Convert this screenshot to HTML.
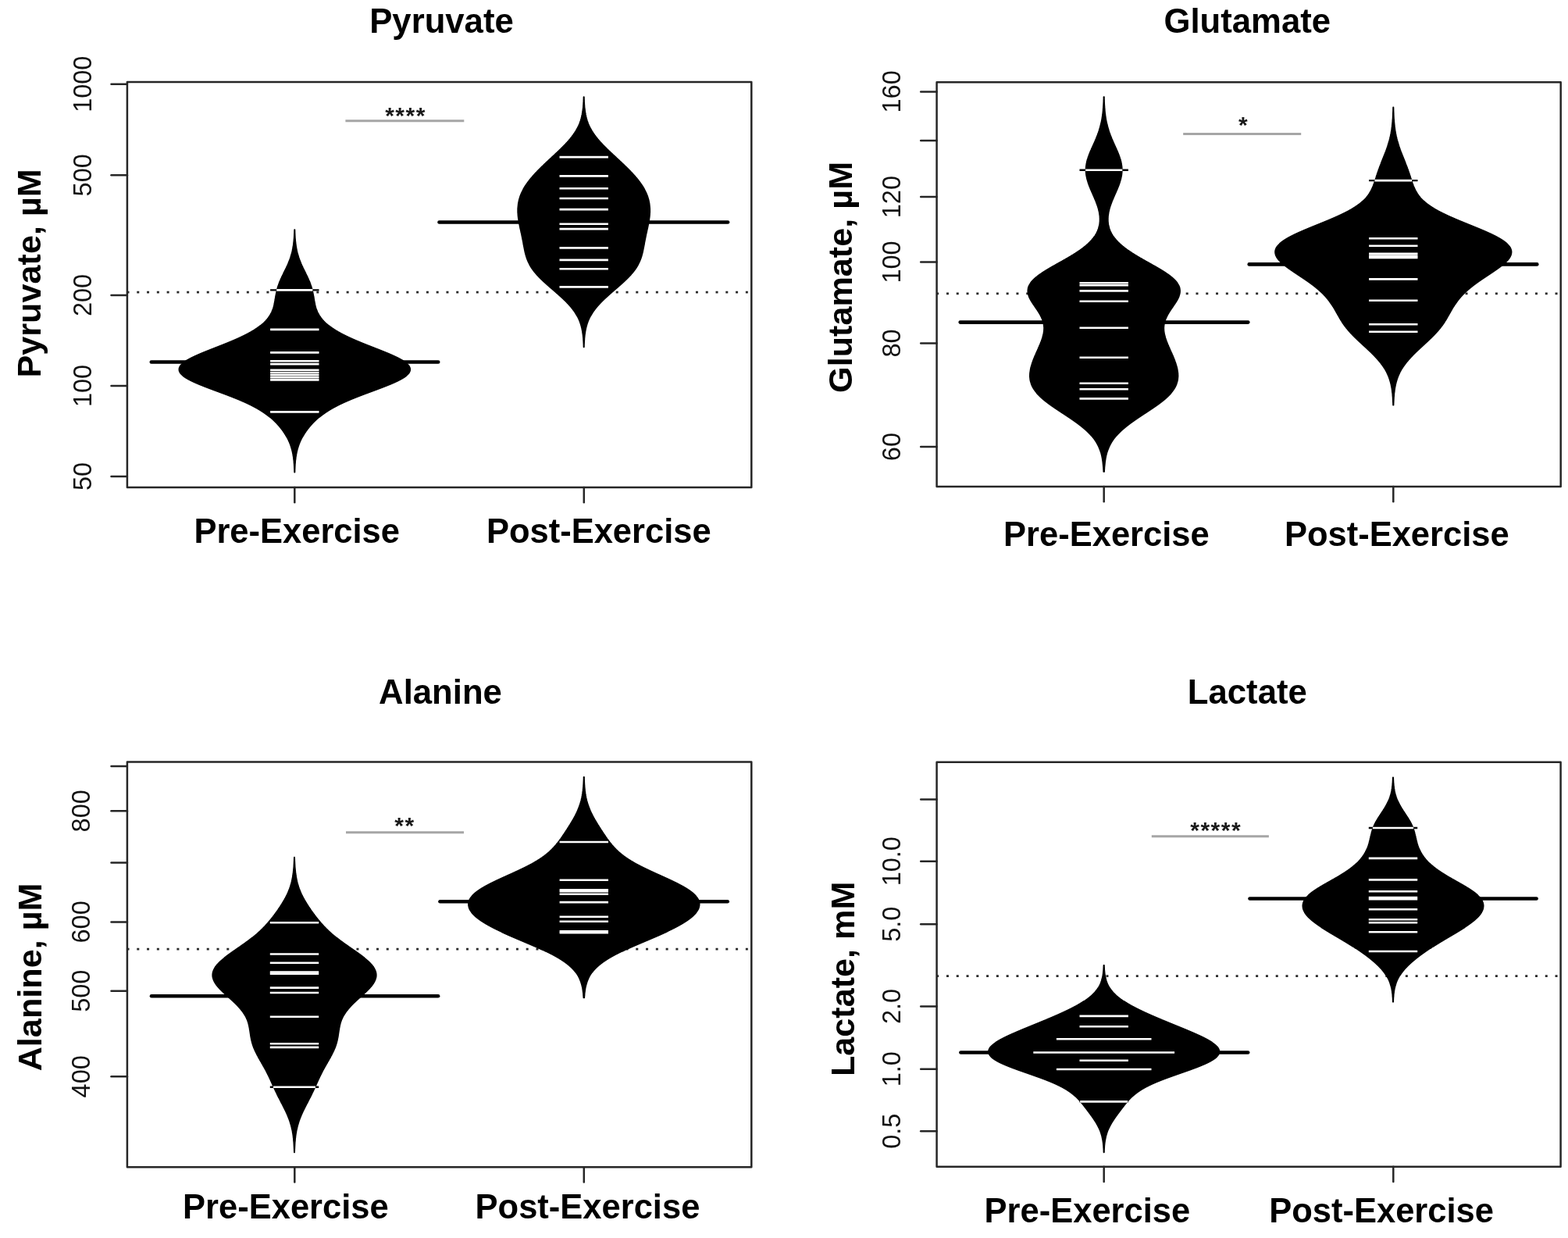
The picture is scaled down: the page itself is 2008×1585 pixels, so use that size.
<!DOCTYPE html>
<html lang="en"><head><meta charset="utf-8"><title>Metabolite bean plots</title>
<style>html,body{margin:0;padding:0;background:#fff}body{width:2008px;height:1585px;overflow:hidden}</style></head>
<body>
<svg width="2008" height="1585" viewBox="0 0 2008 1585" style="display:block" font-family='"Liberation Sans", sans-serif'>
<rect width="2008" height="1585" fill="#fff"/>
<g>
<line x1="162.5" y1="374.2" x2="962.3" y2="374.2" stroke="#2a2a2a" stroke-width="2.7" stroke-dasharray="3 9.78" />
<line x1="193.8" y1="463.5" x2="561.2" y2="463.5" stroke="#000" stroke-width="4.6" stroke-linecap="round"/>
<line x1="346.1" y1="371.4" x2="408.5" y2="371.4" stroke="#000" stroke-width="2.4"/>
<path d="M377.1,294.0 L377.1,295.0 L377.0,296.0 L377.0,297.0 L377.0,298.0 L376.9,299.0 L376.9,300.0 L376.8,301.0 L376.8,302.0 L376.7,303.0 L376.7,304.0 L376.6,305.0 L376.5,306.0 L376.4,307.0 L376.3,308.0 L376.3,309.0 L376.1,310.0 L376.0,311.0 L375.9,312.0 L375.8,313.0 L375.7,314.0 L375.5,315.0 L375.3,316.0 L375.2,317.0 L375.0,318.0 L374.8,319.0 L374.6,320.0 L374.4,321.0 L374.2,322.0 L373.9,323.0 L373.7,324.0 L373.4,325.0 L373.1,326.0 L372.8,327.0 L372.5,328.0 L372.2,329.0 L371.9,330.0 L371.5,331.0 L371.2,332.0 L370.8,333.0 L370.4,334.0 L370.0,335.0 L369.6,336.0 L369.2,337.0 L368.8,338.0 L368.3,339.0 L367.9,340.0 L367.4,341.0 L366.9,342.0 L366.5,343.0 L366.0,344.0 L365.5,345.0 L365.0,346.0 L364.5,347.0 L364.0,348.0 L363.5,349.0 L363.0,350.0 L362.6,351.0 L362.1,352.0 L361.6,353.0 L361.1,354.0 L360.6,355.0 L360.2,356.0 L359.7,357.0 L359.3,358.0 L358.9,359.0 L358.4,360.0 L358.0,361.0 L357.6,362.0 L357.3,363.0 L356.9,364.0 L356.6,365.0 L356.2,366.0 L355.9,367.0 L355.6,368.0 L355.3,369.0 L355.0,370.0 L354.8,371.0 L354.5,372.0 L354.3,373.0 L354.1,374.0 L353.9,375.0 L353.7,376.0 L353.5,377.0 L353.3,378.0 L353.1,379.0 L352.9,380.0 L352.8,381.0 L352.6,382.0 L352.4,383.0 L352.3,384.0 L352.1,385.0 L351.9,386.0 L351.7,387.0 L351.5,388.0 L351.3,389.0 L351.1,390.0 L350.9,391.0 L350.6,392.0 L350.4,393.0 L350.1,394.0 L349.8,395.0 L349.4,396.0 L349.0,397.0 L348.6,398.0 L348.2,399.0 L347.8,400.0 L347.3,401.0 L346.7,402.0 L346.2,403.0 L345.6,404.0 L344.9,405.0 L344.2,406.0 L343.5,407.0 L342.7,408.0 L341.9,409.0 L341.0,410.0 L340.1,411.0 L339.1,412.0 L338.1,413.0 L337.0,414.0 L335.8,415.0 L334.6,416.0 L333.4,417.0 L332.1,418.0 L330.7,419.0 L329.3,420.0 L327.8,421.0 L326.3,422.0 L324.7,423.0 L323.0,424.0 L321.3,425.0 L319.5,426.0 L317.7,427.0 L315.8,428.0 L313.8,429.0 L311.8,430.0 L309.7,431.0 L307.6,432.0 L305.4,433.0 L303.2,434.0 L300.9,435.0 L298.6,436.0 L296.2,437.0 L293.8,438.0 L291.4,439.0 L288.9,440.0 L286.4,441.0 L283.9,442.0 L281.3,443.0 L278.8,444.0 L276.2,445.0 L273.7,446.0 L271.1,447.0 L268.6,448.0 L266.1,449.0 L263.6,450.0 L261.1,451.0 L258.7,452.0 L256.3,453.0 L254.0,454.0 L251.8,455.0 L249.6,456.0 L247.5,457.0 L245.4,458.0 L243.5,459.0 L241.7,460.0 L239.9,461.0 L238.3,462.0 L236.8,463.0 L235.4,464.0 L234.2,465.0 L233.0,466.0 L232.1,467.0 L231.2,468.0 L230.5,469.0 L230.0,470.0 L229.6,471.0 L229.4,472.0 L229.3,473.0 L229.4,474.0 L229.6,475.0 L230.0,476.0 L230.5,477.0 L231.2,478.0 L232.1,479.0 L233.1,480.0 L234.2,481.0 L235.5,482.0 L236.9,483.0 L238.5,484.0 L240.2,485.0 L242.0,486.0 L243.9,487.0 L245.9,488.0 L248.0,489.0 L250.2,490.0 L252.5,491.0 L254.8,492.0 L257.3,493.0 L259.8,494.0 L262.3,495.0 L264.9,496.0 L267.5,497.0 L270.2,498.0 L272.8,499.0 L275.5,500.0 L278.2,501.0 L280.9,502.0 L283.6,503.0 L286.3,504.0 L289.0,505.0 L291.6,506.0 L294.2,507.0 L296.8,508.0 L299.3,509.0 L301.8,510.0 L304.3,511.0 L306.7,512.0 L309.0,513.0 L311.3,514.0 L313.6,515.0 L315.8,516.0 L317.9,517.0 L320.0,518.0 L322.0,519.0 L323.9,520.0 L325.8,521.0 L327.7,522.0 L329.5,523.0 L331.2,524.0 L332.9,525.0 L334.5,526.0 L336.0,527.0 L337.6,528.0 L339.0,529.0 L340.4,530.0 L341.8,531.0 L343.1,532.0 L344.4,533.0 L345.7,534.0 L346.9,535.0 L348.0,536.0 L349.2,537.0 L350.2,538.0 L351.3,539.0 L352.3,540.0 L353.3,541.0 L354.3,542.0 L355.2,543.0 L356.1,544.0 L357.0,545.0 L357.9,546.0 L358.7,547.0 L359.5,548.0 L360.3,549.0 L361.1,550.0 L361.8,551.0 L362.6,552.0 L363.2,553.0 L363.9,554.0 L364.6,555.0 L365.2,556.0 L365.8,557.0 L366.4,558.0 L367.0,559.0 L367.6,560.0 L368.1,561.0 L368.6,562.0 L369.1,563.0 L369.6,564.0 L370.0,565.0 L370.5,566.0 L370.9,567.0 L371.3,568.0 L371.7,569.0 L372.0,570.0 L372.4,571.0 L372.7,572.0 L373.0,573.0 L373.3,574.0 L373.6,575.0 L373.9,576.0 L374.1,577.0 L374.4,578.0 L374.6,579.0 L374.8,580.0 L375.0,581.0 L375.2,582.0 L375.3,583.0 L375.5,584.0 L375.7,585.0 L375.8,586.0 L375.9,587.0 L376.0,588.0 L376.2,589.0 L376.3,590.0 L376.4,591.0 L376.4,592.0 L376.5,593.0 L376.6,594.0 L376.7,595.0 L376.7,596.0 L376.8,597.0 L376.8,598.0 L376.9,599.0 L376.9,600.0 L377.0,601.0 L377.0,602.0 L377.0,603.0 L377.1,604.0 L377.1,604.8 L377.5,604.8 L377.5,604.0 L377.6,603.0 L377.6,602.0 L377.6,601.0 L377.7,600.0 L377.7,599.0 L377.8,598.0 L377.8,597.0 L377.9,596.0 L377.9,595.0 L378.0,594.0 L378.1,593.0 L378.2,592.0 L378.2,591.0 L378.3,590.0 L378.4,589.0 L378.6,588.0 L378.7,587.0 L378.8,586.0 L378.9,585.0 L379.1,584.0 L379.3,583.0 L379.4,582.0 L379.6,581.0 L379.8,580.0 L380.0,579.0 L380.2,578.0 L380.5,577.0 L380.7,576.0 L381.0,575.0 L381.3,574.0 L381.6,573.0 L381.9,572.0 L382.2,571.0 L382.6,570.0 L382.9,569.0 L383.3,568.0 L383.7,567.0 L384.1,566.0 L384.6,565.0 L385.0,564.0 L385.5,563.0 L386.0,562.0 L386.5,561.0 L387.0,560.0 L387.6,559.0 L388.2,558.0 L388.8,557.0 L389.4,556.0 L390.0,555.0 L390.7,554.0 L391.4,553.0 L392.0,552.0 L392.8,551.0 L393.5,550.0 L394.3,549.0 L395.1,548.0 L395.9,547.0 L396.7,546.0 L397.6,545.0 L398.5,544.0 L399.4,543.0 L400.3,542.0 L401.3,541.0 L402.3,540.0 L403.3,539.0 L404.4,538.0 L405.4,537.0 L406.6,536.0 L407.7,535.0 L408.9,534.0 L410.2,533.0 L411.5,532.0 L412.8,531.0 L414.2,530.0 L415.6,529.0 L417.0,528.0 L418.6,527.0 L420.1,526.0 L421.7,525.0 L423.4,524.0 L425.1,523.0 L426.9,522.0 L428.8,521.0 L430.7,520.0 L432.6,519.0 L434.6,518.0 L436.7,517.0 L438.8,516.0 L441.0,515.0 L443.3,514.0 L445.6,513.0 L447.9,512.0 L450.3,511.0 L452.8,510.0 L455.3,509.0 L457.8,508.0 L460.4,507.0 L463.0,506.0 L465.6,505.0 L468.3,504.0 L471.0,503.0 L473.7,502.0 L476.4,501.0 L479.1,500.0 L481.8,499.0 L484.4,498.0 L487.1,497.0 L489.7,496.0 L492.3,495.0 L494.8,494.0 L497.3,493.0 L499.8,492.0 L502.1,491.0 L504.4,490.0 L506.6,489.0 L508.7,488.0 L510.7,487.0 L512.6,486.0 L514.4,485.0 L516.1,484.0 L517.7,483.0 L519.1,482.0 L520.4,481.0 L521.5,480.0 L522.5,479.0 L523.4,478.0 L524.1,477.0 L524.6,476.0 L525.0,475.0 L525.2,474.0 L525.3,473.0 L525.2,472.0 L525.0,471.0 L524.6,470.0 L524.1,469.0 L523.4,468.0 L522.5,467.0 L521.6,466.0 L520.4,465.0 L519.2,464.0 L517.8,463.0 L516.3,462.0 L514.7,461.0 L512.9,460.0 L511.1,459.0 L509.2,458.0 L507.1,457.0 L505.0,456.0 L502.8,455.0 L500.6,454.0 L498.3,453.0 L495.9,452.0 L493.5,451.0 L491.0,450.0 L488.5,449.0 L486.0,448.0 L483.5,447.0 L480.9,446.0 L478.4,445.0 L475.8,444.0 L473.3,443.0 L470.7,442.0 L468.2,441.0 L465.7,440.0 L463.2,439.0 L460.8,438.0 L458.4,437.0 L456.0,436.0 L453.7,435.0 L451.4,434.0 L449.2,433.0 L447.0,432.0 L444.9,431.0 L442.8,430.0 L440.8,429.0 L438.8,428.0 L436.9,427.0 L435.1,426.0 L433.3,425.0 L431.6,424.0 L429.9,423.0 L428.3,422.0 L426.8,421.0 L425.3,420.0 L423.9,419.0 L422.5,418.0 L421.2,417.0 L420.0,416.0 L418.8,415.0 L417.6,414.0 L416.5,413.0 L415.5,412.0 L414.5,411.0 L413.6,410.0 L412.7,409.0 L411.9,408.0 L411.1,407.0 L410.4,406.0 L409.7,405.0 L409.0,404.0 L408.4,403.0 L407.9,402.0 L407.3,401.0 L406.8,400.0 L406.4,399.0 L406.0,398.0 L405.6,397.0 L405.2,396.0 L404.8,395.0 L404.5,394.0 L404.2,393.0 L404.0,392.0 L403.7,391.0 L403.5,390.0 L403.3,389.0 L403.1,388.0 L402.9,387.0 L402.7,386.0 L402.5,385.0 L402.3,384.0 L402.2,383.0 L402.0,382.0 L401.8,381.0 L401.7,380.0 L401.5,379.0 L401.3,378.0 L401.1,377.0 L400.9,376.0 L400.7,375.0 L400.5,374.0 L400.3,373.0 L400.1,372.0 L399.8,371.0 L399.6,370.0 L399.3,369.0 L399.0,368.0 L398.7,367.0 L398.4,366.0 L398.0,365.0 L397.7,364.0 L397.3,363.0 L397.0,362.0 L396.6,361.0 L396.2,360.0 L395.7,359.0 L395.3,358.0 L394.9,357.0 L394.4,356.0 L394.0,355.0 L393.5,354.0 L393.0,353.0 L392.5,352.0 L392.0,351.0 L391.6,350.0 L391.1,349.0 L390.6,348.0 L390.1,347.0 L389.6,346.0 L389.1,345.0 L388.6,344.0 L388.1,343.0 L387.7,342.0 L387.2,341.0 L386.7,340.0 L386.3,339.0 L385.8,338.0 L385.4,337.0 L385.0,336.0 L384.6,335.0 L384.2,334.0 L383.8,333.0 L383.4,332.0 L383.1,331.0 L382.7,330.0 L382.4,329.0 L382.1,328.0 L381.8,327.0 L381.5,326.0 L381.2,325.0 L380.9,324.0 L380.7,323.0 L380.4,322.0 L380.2,321.0 L380.0,320.0 L379.8,319.0 L379.6,318.0 L379.4,317.0 L379.3,316.0 L379.1,315.0 L378.9,314.0 L378.8,313.0 L378.7,312.0 L378.6,311.0 L378.5,310.0 L378.3,309.0 L378.3,308.0 L378.2,307.0 L378.1,306.0 L378.0,305.0 L377.9,304.0 L377.9,303.0 L377.8,302.0 L377.8,301.0 L377.7,300.0 L377.7,299.0 L377.6,298.0 L377.6,297.0 L377.6,296.0 L377.5,295.0 L377.5,294.0Z" fill="#000" stroke="#000" stroke-width="1.6" stroke-linejoin="round"/>
<line x1="354.2" y1="371.4" x2="400.4" y2="371.4" stroke="#fff" stroke-width="2.6"/>
<line x1="346.1" y1="421.9" x2="408.5" y2="421.9" stroke="#fff" stroke-width="2.6"/>
<line x1="346.1" y1="451.4" x2="408.5" y2="451.4" stroke="#fff" stroke-width="2.6"/>
<line x1="346.1" y1="462.2" x2="408.5" y2="462.2" stroke="#fff" stroke-width="2.6"/>
<line x1="346.1" y1="466.1" x2="408.5" y2="466.1" stroke="#fff" stroke-width="2.6"/>
<line x1="346.1" y1="473.9" x2="408.5" y2="473.9" stroke="#fff" stroke-width="2.6"/>
<line x1="346.1" y1="477.2" x2="408.5" y2="477.2" stroke="#fff" stroke-width="2.6"/>
<line x1="346.1" y1="480.2" x2="408.5" y2="480.2" stroke="#fff" stroke-width="2.6"/>
<line x1="346.1" y1="483.2" x2="408.5" y2="483.2" stroke="#fff" stroke-width="2.6"/>
<line x1="346.1" y1="486.4" x2="408.5" y2="486.4" stroke="#fff" stroke-width="2.6"/>
<line x1="346.1" y1="527.4" x2="408.5" y2="527.4" stroke="#fff" stroke-width="2.6"/>
<line x1="562.5" y1="284.5" x2="932.1" y2="284.5" stroke="#000" stroke-width="4.6" stroke-linecap="round"/>
<path d="M747.5,124.0 L747.4,125.0 L747.4,126.0 L747.4,127.0 L747.3,128.0 L747.3,129.0 L747.3,130.0 L747.2,131.0 L747.1,132.0 L747.1,133.0 L747.0,134.0 L746.9,135.0 L746.9,136.0 L746.8,137.0 L746.7,138.0 L746.6,139.0 L746.5,140.0 L746.3,141.0 L746.2,142.0 L746.1,143.0 L745.9,144.0 L745.7,145.0 L745.6,146.0 L745.4,147.0 L745.1,148.0 L744.9,149.0 L744.7,150.0 L744.4,151.0 L744.2,152.0 L743.9,153.0 L743.6,154.0 L743.3,155.0 L742.9,156.0 L742.5,157.0 L742.2,158.0 L741.8,159.0 L741.3,160.0 L740.9,161.0 L740.4,162.0 L739.9,163.0 L739.4,164.0 L738.9,165.0 L738.3,166.0 L737.8,167.0 L737.2,168.0 L736.5,169.0 L735.9,170.0 L735.2,171.0 L734.5,172.0 L733.8,173.0 L733.0,174.0 L732.3,175.0 L731.5,176.0 L730.7,177.0 L729.9,178.0 L729.0,179.0 L728.2,180.0 L727.3,181.0 L726.4,182.0 L725.4,183.0 L724.5,184.0 L723.6,185.0 L722.6,186.0 L721.6,187.0 L720.6,188.0 L719.6,189.0 L718.6,190.0 L717.6,191.0 L716.5,192.0 L715.5,193.0 L714.4,194.0 L713.4,195.0 L712.3,196.0 L711.2,197.0 L710.2,198.0 L709.1,199.0 L708.0,200.0 L706.9,201.0 L705.9,202.0 L704.8,203.0 L703.7,204.0 L702.6,205.0 L701.6,206.0 L700.5,207.0 L699.4,208.0 L698.4,209.0 L697.3,210.0 L696.3,211.0 L695.3,212.0 L694.2,213.0 L693.2,214.0 L692.2,215.0 L691.2,216.0 L690.2,217.0 L689.2,218.0 L688.2,219.0 L687.3,220.0 L686.3,221.0 L685.4,222.0 L684.5,223.0 L683.6,224.0 L682.7,225.0 L681.8,226.0 L681.0,227.0 L680.1,228.0 L679.3,229.0 L678.5,230.0 L677.7,231.0 L677.0,232.0 L676.2,233.0 L675.5,234.0 L674.8,235.0 L674.1,236.0 L673.4,237.0 L672.7,238.0 L672.1,239.0 L671.5,240.0 L670.9,241.0 L670.3,242.0 L669.8,243.0 L669.3,244.0 L668.8,245.0 L668.3,246.0 L667.8,247.0 L667.4,248.0 L667.0,249.0 L666.6,250.0 L666.2,251.0 L665.9,252.0 L665.6,253.0 L665.3,254.0 L665.0,255.0 L664.7,256.0 L664.5,257.0 L664.3,258.0 L664.1,259.0 L663.9,260.0 L663.7,261.0 L663.6,262.0 L663.5,263.0 L663.4,264.0 L663.3,265.0 L663.2,266.0 L663.1,267.0 L663.1,268.0 L663.1,269.0 L663.1,270.0 L663.1,271.0 L663.1,272.0 L663.2,273.0 L663.3,274.0 L663.3,275.0 L663.4,276.0 L663.5,277.0 L663.6,278.0 L663.8,279.0 L663.9,280.0 L664.0,281.0 L664.2,282.0 L664.4,283.0 L664.5,284.0 L664.7,285.0 L664.9,286.0 L665.1,287.0 L665.3,288.0 L665.5,289.0 L665.7,290.0 L665.9,291.0 L666.1,292.0 L666.3,293.0 L666.6,294.0 L666.8,295.0 L667.0,296.0 L667.2,297.0 L667.4,298.0 L667.7,299.0 L667.9,300.0 L668.1,301.0 L668.3,302.0 L668.5,303.0 L668.7,304.0 L668.9,305.0 L669.1,306.0 L669.3,307.0 L669.5,308.0 L669.7,309.0 L669.9,310.0 L670.1,311.0 L670.2,312.0 L670.4,313.0 L670.6,314.0 L670.8,315.0 L671.0,316.0 L671.2,317.0 L671.4,318.0 L671.6,319.0 L671.8,320.0 L672.0,321.0 L672.2,322.0 L672.4,323.0 L672.7,324.0 L672.9,325.0 L673.2,326.0 L673.5,327.0 L673.7,328.0 L674.1,329.0 L674.4,330.0 L674.7,331.0 L675.1,332.0 L675.5,333.0 L675.9,334.0 L676.3,335.0 L676.8,336.0 L677.3,337.0 L677.8,338.0 L678.3,339.0 L678.9,340.0 L679.5,341.0 L680.1,342.0 L680.7,343.0 L681.4,344.0 L682.1,345.0 L682.8,346.0 L683.6,347.0 L684.3,348.0 L685.2,349.0 L686.0,350.0 L686.9,351.0 L687.7,352.0 L688.6,353.0 L689.6,354.0 L690.5,355.0 L691.5,356.0 L692.5,357.0 L693.5,358.0 L694.6,359.0 L695.6,360.0 L696.7,361.0 L697.8,362.0 L698.9,363.0 L700.0,364.0 L701.1,365.0 L702.3,366.0 L703.4,367.0 L704.5,368.0 L705.7,369.0 L706.9,370.0 L708.0,371.0 L709.2,372.0 L710.3,373.0 L711.5,374.0 L712.6,375.0 L713.8,376.0 L714.9,377.0 L716.0,378.0 L717.1,379.0 L718.2,380.0 L719.3,381.0 L720.4,382.0 L721.5,383.0 L722.5,384.0 L723.6,385.0 L724.6,386.0 L725.6,387.0 L726.5,388.0 L727.5,389.0 L728.4,390.0 L729.3,391.0 L730.2,392.0 L731.1,393.0 L731.9,394.0 L732.7,395.0 L733.5,396.0 L734.2,397.0 L735.0,398.0 L735.7,399.0 L736.4,400.0 L737.0,401.0 L737.6,402.0 L738.2,403.0 L738.8,404.0 L739.4,405.0 L739.9,406.0 L740.4,407.0 L740.9,408.0 L741.3,409.0 L741.8,410.0 L742.2,411.0 L742.6,412.0 L742.9,413.0 L743.3,414.0 L743.6,415.0 L743.9,416.0 L744.2,417.0 L744.5,418.0 L744.7,419.0 L745.0,420.0 L745.2,421.0 L745.4,422.0 L745.6,423.0 L745.8,424.0 L745.9,425.0 L746.1,426.0 L746.2,427.0 L746.4,428.0 L746.5,429.0 L746.6,430.0 L746.7,431.0 L746.8,432.0 L746.9,433.0 L747.0,434.0 L747.0,435.0 L747.1,436.0 L747.2,437.0 L747.2,438.0 L747.3,439.0 L747.3,440.0 L747.4,441.0 L747.4,442.0 L747.4,443.0 L747.5,444.0 L747.5,444.5 L747.9,444.5 L747.9,444.0 L748.0,443.0 L748.0,442.0 L748.0,441.0 L748.1,440.0 L748.1,439.0 L748.2,438.0 L748.2,437.0 L748.3,436.0 L748.4,435.0 L748.4,434.0 L748.5,433.0 L748.6,432.0 L748.7,431.0 L748.8,430.0 L748.9,429.0 L749.0,428.0 L749.2,427.0 L749.3,426.0 L749.5,425.0 L749.6,424.0 L749.8,423.0 L750.0,422.0 L750.2,421.0 L750.4,420.0 L750.7,419.0 L750.9,418.0 L751.2,417.0 L751.5,416.0 L751.8,415.0 L752.1,414.0 L752.5,413.0 L752.8,412.0 L753.2,411.0 L753.6,410.0 L754.1,409.0 L754.5,408.0 L755.0,407.0 L755.5,406.0 L756.0,405.0 L756.6,404.0 L757.2,403.0 L757.8,402.0 L758.4,401.0 L759.0,400.0 L759.7,399.0 L760.4,398.0 L761.2,397.0 L761.9,396.0 L762.7,395.0 L763.5,394.0 L764.3,393.0 L765.2,392.0 L766.1,391.0 L767.0,390.0 L767.9,389.0 L768.9,388.0 L769.8,387.0 L770.8,386.0 L771.8,385.0 L772.9,384.0 L773.9,383.0 L775.0,382.0 L776.1,381.0 L777.2,380.0 L778.3,379.0 L779.4,378.0 L780.5,377.0 L781.6,376.0 L782.8,375.0 L783.9,374.0 L785.1,373.0 L786.2,372.0 L787.4,371.0 L788.5,370.0 L789.7,369.0 L790.9,368.0 L792.0,367.0 L793.1,366.0 L794.3,365.0 L795.4,364.0 L796.5,363.0 L797.6,362.0 L798.7,361.0 L799.8,360.0 L800.8,359.0 L801.9,358.0 L802.9,357.0 L803.9,356.0 L804.9,355.0 L805.8,354.0 L806.8,353.0 L807.7,352.0 L808.5,351.0 L809.4,350.0 L810.2,349.0 L811.1,348.0 L811.8,347.0 L812.6,346.0 L813.3,345.0 L814.0,344.0 L814.7,343.0 L815.3,342.0 L815.9,341.0 L816.5,340.0 L817.1,339.0 L817.6,338.0 L818.1,337.0 L818.6,336.0 L819.1,335.0 L819.5,334.0 L819.9,333.0 L820.3,332.0 L820.7,331.0 L821.0,330.0 L821.3,329.0 L821.7,328.0 L821.9,327.0 L822.2,326.0 L822.5,325.0 L822.7,324.0 L823.0,323.0 L823.2,322.0 L823.4,321.0 L823.6,320.0 L823.8,319.0 L824.0,318.0 L824.2,317.0 L824.4,316.0 L824.6,315.0 L824.8,314.0 L825.0,313.0 L825.2,312.0 L825.3,311.0 L825.5,310.0 L825.7,309.0 L825.9,308.0 L826.1,307.0 L826.3,306.0 L826.5,305.0 L826.7,304.0 L826.9,303.0 L827.1,302.0 L827.3,301.0 L827.5,300.0 L827.7,299.0 L828.0,298.0 L828.2,297.0 L828.4,296.0 L828.6,295.0 L828.8,294.0 L829.1,293.0 L829.3,292.0 L829.5,291.0 L829.7,290.0 L829.9,289.0 L830.1,288.0 L830.3,287.0 L830.5,286.0 L830.7,285.0 L830.9,284.0 L831.0,283.0 L831.2,282.0 L831.4,281.0 L831.5,280.0 L831.6,279.0 L831.8,278.0 L831.9,277.0 L832.0,276.0 L832.1,275.0 L832.1,274.0 L832.2,273.0 L832.3,272.0 L832.3,271.0 L832.3,270.0 L832.3,269.0 L832.3,268.0 L832.3,267.0 L832.2,266.0 L832.1,265.0 L832.0,264.0 L831.9,263.0 L831.8,262.0 L831.7,261.0 L831.5,260.0 L831.3,259.0 L831.1,258.0 L830.9,257.0 L830.7,256.0 L830.4,255.0 L830.1,254.0 L829.8,253.0 L829.5,252.0 L829.2,251.0 L828.8,250.0 L828.4,249.0 L828.0,248.0 L827.6,247.0 L827.1,246.0 L826.6,245.0 L826.1,244.0 L825.6,243.0 L825.1,242.0 L824.5,241.0 L823.9,240.0 L823.3,239.0 L822.7,238.0 L822.0,237.0 L821.3,236.0 L820.6,235.0 L819.9,234.0 L819.2,233.0 L818.4,232.0 L817.7,231.0 L816.9,230.0 L816.1,229.0 L815.3,228.0 L814.4,227.0 L813.6,226.0 L812.7,225.0 L811.8,224.0 L810.9,223.0 L810.0,222.0 L809.1,221.0 L808.1,220.0 L807.2,219.0 L806.2,218.0 L805.2,217.0 L804.2,216.0 L803.2,215.0 L802.2,214.0 L801.2,213.0 L800.1,212.0 L799.1,211.0 L798.1,210.0 L797.0,209.0 L796.0,208.0 L794.9,207.0 L793.8,206.0 L792.8,205.0 L791.7,204.0 L790.6,203.0 L789.5,202.0 L788.5,201.0 L787.4,200.0 L786.3,199.0 L785.2,198.0 L784.2,197.0 L783.1,196.0 L782.0,195.0 L781.0,194.0 L779.9,193.0 L778.9,192.0 L777.8,191.0 L776.8,190.0 L775.8,189.0 L774.8,188.0 L773.8,187.0 L772.8,186.0 L771.8,185.0 L770.9,184.0 L770.0,183.0 L769.0,182.0 L768.1,181.0 L767.2,180.0 L766.4,179.0 L765.5,178.0 L764.7,177.0 L763.9,176.0 L763.1,175.0 L762.4,174.0 L761.6,173.0 L760.9,172.0 L760.2,171.0 L759.5,170.0 L758.9,169.0 L758.2,168.0 L757.6,167.0 L757.1,166.0 L756.5,165.0 L756.0,164.0 L755.5,163.0 L755.0,162.0 L754.5,161.0 L754.1,160.0 L753.6,159.0 L753.2,158.0 L752.9,157.0 L752.5,156.0 L752.1,155.0 L751.8,154.0 L751.5,153.0 L751.2,152.0 L751.0,151.0 L750.7,150.0 L750.5,149.0 L750.3,148.0 L750.0,147.0 L749.8,146.0 L749.7,145.0 L749.5,144.0 L749.3,143.0 L749.2,142.0 L749.1,141.0 L748.9,140.0 L748.8,139.0 L748.7,138.0 L748.6,137.0 L748.5,136.0 L748.5,135.0 L748.4,134.0 L748.3,133.0 L748.3,132.0 L748.2,131.0 L748.1,130.0 L748.1,129.0 L748.1,128.0 L748.0,127.0 L748.0,126.0 L748.0,125.0 L747.9,124.0Z" fill="#000" stroke="#000" stroke-width="1.6" stroke-linejoin="round"/>
<line x1="716.5" y1="201.1" x2="778.9" y2="201.1" stroke="#fff" stroke-width="2.6"/>
<line x1="716.5" y1="225.4" x2="778.9" y2="225.4" stroke="#fff" stroke-width="2.6"/>
<line x1="716.5" y1="241.3" x2="778.9" y2="241.3" stroke="#fff" stroke-width="2.6"/>
<line x1="716.5" y1="254.0" x2="778.9" y2="254.0" stroke="#fff" stroke-width="2.6"/>
<line x1="716.5" y1="268.1" x2="778.9" y2="268.1" stroke="#fff" stroke-width="2.6"/>
<line x1="716.5" y1="286.7" x2="778.9" y2="286.7" stroke="#fff" stroke-width="2.6"/>
<line x1="716.5" y1="293.1" x2="778.9" y2="293.1" stroke="#fff" stroke-width="2.6"/>
<line x1="716.5" y1="317.4" x2="778.9" y2="317.4" stroke="#fff" stroke-width="2.6"/>
<line x1="716.5" y1="332.9" x2="778.9" y2="332.9" stroke="#fff" stroke-width="2.6"/>
<line x1="716.5" y1="344.2" x2="778.9" y2="344.2" stroke="#fff" stroke-width="2.6"/>
<line x1="716.5" y1="367.4" x2="778.9" y2="367.4" stroke="#fff" stroke-width="2.6"/>
<rect x="162.9" y="105.0" width="799.4" height="518.9" fill="none" stroke="#262626" stroke-width="2.5" stroke-linejoin="round"/>
<line x1="142.5" y1="107.7" x2="162.9" y2="107.7" stroke="#262626" stroke-width="2.5" stroke-linecap="round"/>
<text transform="translate(116.5,107.7) rotate(-90)" text-anchor="middle" font-size="32.5" fill="#111">1000</text>
<line x1="142.5" y1="224.3" x2="162.9" y2="224.3" stroke="#262626" stroke-width="2.5" stroke-linecap="round"/>
<text transform="translate(116.5,224.3) rotate(-90)" text-anchor="middle" font-size="32.5" fill="#111">500</text>
<line x1="142.5" y1="378.0" x2="162.9" y2="378.0" stroke="#262626" stroke-width="2.5" stroke-linecap="round"/>
<text transform="translate(116.5,378.0) rotate(-90)" text-anchor="middle" font-size="32.5" fill="#111">200</text>
<line x1="142.5" y1="494.0" x2="162.9" y2="494.0" stroke="#262626" stroke-width="2.5" stroke-linecap="round"/>
<text transform="translate(116.5,494.0) rotate(-90)" text-anchor="middle" font-size="32.5" fill="#111">100</text>
<line x1="142.5" y1="610.0" x2="162.9" y2="610.0" stroke="#262626" stroke-width="2.5" stroke-linecap="round"/>
<text transform="translate(116.5,610.0) rotate(-90)" text-anchor="middle" font-size="32.5" fill="#111">50</text>
<line x1="377.3" y1="623.9" x2="377.3" y2="643.2" stroke="#262626" stroke-width="2.5" stroke-linecap="round"/>
<line x1="747.8" y1="623.9" x2="747.8" y2="643.2" stroke="#262626" stroke-width="2.5" stroke-linecap="round"/>
<text x="565.5" y="41.8" text-anchor="middle" font-size="43.7" font-weight="bold" fill="#000">Pyruvate</text>
<text transform="translate(51.5,349.9) rotate(-90)" text-anchor="middle" font-size="43.2" font-weight="bold" fill="#000">Pyruvate, µM</text>
<text x="248.4" y="694.8" font-size="43.5" font-weight="bold" fill="#000">Pre-Exercise</text>
<text x="622.9" y="694.8" font-size="43.5" font-weight="bold" fill="#000">Post-Exercise</text>
<line x1="442.4" y1="154.7" x2="594.3" y2="154.7" stroke="#a6a6a6" stroke-width="3"/>
<text x="519.5" y="158.0" text-anchor="middle" font-size="30" font-weight="bold" letter-spacing="1.5" fill="#1a1a1a">****</text>
</g>
<g>
<line x1="1199.2" y1="375.8" x2="1998.7" y2="375.8" stroke="#2a2a2a" stroke-width="2.7" stroke-dasharray="3 9.78" />
<line x1="1229.7" y1="412.6" x2="1598.3" y2="412.6" stroke="#000" stroke-width="4.6" stroke-linecap="round"/>
<line x1="1382.5" y1="217.7" x2="1444.9" y2="217.7" stroke="#000" stroke-width="2.4"/>
<path d="M1413.4,124.1 L1413.4,125.1 L1413.4,126.1 L1413.4,127.1 L1413.3,128.1 L1413.3,129.1 L1413.3,130.1 L1413.2,131.1 L1413.2,132.1 L1413.1,133.1 L1413.1,134.1 L1413.0,135.1 L1412.9,136.1 L1412.9,137.1 L1412.8,138.1 L1412.7,139.1 L1412.6,140.1 L1412.6,141.1 L1412.5,142.1 L1412.4,143.1 L1412.3,144.1 L1412.2,145.1 L1412.0,146.1 L1411.9,147.1 L1411.8,148.1 L1411.6,149.1 L1411.5,150.1 L1411.3,151.1 L1411.2,152.1 L1411.0,153.1 L1410.8,154.1 L1410.6,155.1 L1410.4,156.1 L1410.2,157.1 L1410.0,158.1 L1409.7,159.1 L1409.5,160.1 L1409.2,161.1 L1409.0,162.1 L1408.7,163.1 L1408.4,164.1 L1408.1,165.1 L1407.8,166.1 L1407.5,167.1 L1407.2,168.1 L1406.8,169.1 L1406.5,170.1 L1406.1,171.1 L1405.7,172.1 L1405.4,173.1 L1405.0,174.1 L1404.6,175.1 L1404.2,176.1 L1403.8,177.1 L1403.4,178.1 L1402.9,179.1 L1402.5,180.1 L1402.1,181.1 L1401.6,182.1 L1401.2,183.1 L1400.7,184.1 L1400.3,185.1 L1399.8,186.1 L1399.4,187.1 L1398.9,188.1 L1398.5,189.1 L1398.0,190.1 L1397.6,191.1 L1397.2,192.1 L1396.7,193.1 L1396.3,194.1 L1395.9,195.1 L1395.5,196.1 L1395.1,197.1 L1394.7,198.1 L1394.3,199.1 L1394.0,200.1 L1393.6,201.1 L1393.3,202.1 L1393.0,203.1 L1392.6,204.1 L1392.4,205.1 L1392.1,206.1 L1391.8,207.1 L1391.6,208.1 L1391.4,209.1 L1391.2,210.1 L1391.1,211.1 L1390.9,212.1 L1390.8,213.1 L1390.7,214.1 L1390.6,215.1 L1390.6,216.1 L1390.6,217.1 L1390.6,218.1 L1390.6,219.1 L1390.6,220.1 L1390.7,221.1 L1390.8,222.1 L1390.9,223.1 L1391.0,224.1 L1391.2,225.1 L1391.4,226.1 L1391.6,227.1 L1391.8,228.1 L1392.0,229.1 L1392.3,230.1 L1392.6,231.1 L1392.9,232.1 L1393.2,233.1 L1393.5,234.1 L1393.9,235.1 L1394.2,236.1 L1394.6,237.1 L1395.0,238.1 L1395.4,239.1 L1395.8,240.1 L1396.2,241.1 L1396.6,242.1 L1397.0,243.1 L1397.5,244.1 L1397.9,245.1 L1398.3,246.1 L1398.8,247.1 L1399.2,248.1 L1399.7,249.1 L1400.1,250.1 L1400.5,251.1 L1401.0,252.1 L1401.4,253.1 L1401.8,254.1 L1402.2,255.1 L1402.7,256.1 L1403.1,257.1 L1403.5,258.1 L1403.8,259.1 L1404.2,260.1 L1404.6,261.1 L1404.9,262.1 L1405.3,263.1 L1405.6,264.1 L1405.9,265.1 L1406.2,266.1 L1406.5,267.1 L1406.8,268.1 L1407.0,269.1 L1407.2,270.1 L1407.5,271.1 L1407.7,272.1 L1407.8,273.1 L1408.0,274.1 L1408.1,275.1 L1408.3,276.1 L1408.4,277.1 L1408.4,278.1 L1408.5,279.1 L1408.5,280.1 L1408.5,281.1 L1408.5,282.1 L1408.5,283.1 L1408.4,284.1 L1408.3,285.1 L1408.2,286.1 L1408.1,287.1 L1407.9,288.1 L1407.7,289.1 L1407.4,290.1 L1407.2,291.1 L1406.9,292.1 L1406.6,293.1 L1406.2,294.1 L1405.8,295.1 L1405.4,296.1 L1404.9,297.1 L1404.4,298.1 L1403.9,299.1 L1403.3,300.1 L1402.7,301.1 L1402.1,302.1 L1401.4,303.1 L1400.6,304.1 L1399.9,305.1 L1399.0,306.1 L1398.2,307.1 L1397.3,308.1 L1396.3,309.1 L1395.4,310.1 L1394.3,311.1 L1393.3,312.1 L1392.1,313.1 L1391.0,314.1 L1389.8,315.1 L1388.5,316.1 L1387.3,317.1 L1385.9,318.1 L1384.6,319.1 L1383.2,320.1 L1381.7,321.1 L1380.2,322.1 L1378.7,323.1 L1377.2,324.1 L1375.6,325.1 L1374.0,326.1 L1372.3,327.1 L1370.7,328.1 L1369.0,329.1 L1367.3,330.1 L1365.5,331.1 L1363.8,332.1 L1362.0,333.1 L1360.3,334.1 L1358.5,335.1 L1356.7,336.1 L1354.9,337.1 L1353.1,338.1 L1351.4,339.1 L1349.6,340.1 L1347.8,341.1 L1346.1,342.1 L1344.4,343.1 L1342.7,344.1 L1341.0,345.1 L1339.4,346.1 L1337.8,347.1 L1336.2,348.1 L1334.7,349.1 L1333.3,350.1 L1331.8,351.1 L1330.4,352.1 L1329.1,353.1 L1327.9,354.1 L1326.6,355.1 L1325.5,356.1 L1324.4,357.1 L1323.4,358.1 L1322.4,359.1 L1321.5,360.1 L1320.7,361.1 L1319.9,362.1 L1319.3,363.1 L1318.7,364.1 L1318.1,365.1 L1317.6,366.1 L1317.2,367.1 L1316.9,368.1 L1316.6,369.1 L1316.5,370.1 L1316.3,371.1 L1316.3,372.1 L1316.3,373.1 L1316.3,374.1 L1316.5,375.1 L1316.6,376.1 L1316.9,377.1 L1317.2,378.1 L1317.5,379.1 L1317.9,380.1 L1318.3,381.1 L1318.8,382.1 L1319.3,383.1 L1319.8,384.1 L1320.4,385.1 L1321.0,386.1 L1321.6,387.1 L1322.3,388.1 L1322.9,389.1 L1323.6,390.1 L1324.3,391.1 L1325.0,392.1 L1325.6,393.1 L1326.3,394.1 L1327.0,395.1 L1327.7,396.1 L1328.4,397.1 L1329.0,398.1 L1329.7,399.1 L1330.3,400.1 L1330.9,401.1 L1331.5,402.1 L1332.1,403.1 L1332.6,404.1 L1333.1,405.1 L1333.6,406.1 L1334.0,407.1 L1334.5,408.1 L1334.9,409.1 L1335.2,410.1 L1335.5,411.1 L1335.8,412.1 L1336.1,413.1 L1336.3,414.1 L1336.5,415.1 L1336.7,416.1 L1336.8,417.1 L1336.9,418.1 L1337.0,419.1 L1337.0,420.1 L1337.0,421.1 L1336.9,422.1 L1336.9,423.1 L1336.8,424.1 L1336.6,425.1 L1336.5,426.1 L1336.3,427.1 L1336.1,428.1 L1335.9,429.1 L1335.6,430.1 L1335.4,431.1 L1335.1,432.1 L1334.8,433.1 L1334.4,434.1 L1334.1,435.1 L1333.7,436.1 L1333.4,437.1 L1333.0,438.1 L1332.6,439.1 L1332.2,440.1 L1331.8,441.1 L1331.3,442.1 L1330.9,443.1 L1330.5,444.1 L1330.0,445.1 L1329.6,446.1 L1329.2,447.1 L1328.7,448.1 L1328.3,449.1 L1327.8,450.1 L1327.4,451.1 L1326.9,452.1 L1326.5,453.1 L1326.1,454.1 L1325.6,455.1 L1325.2,456.1 L1324.8,457.1 L1324.4,458.1 L1324.0,459.1 L1323.6,460.1 L1323.2,461.1 L1322.8,462.1 L1322.5,463.1 L1322.1,464.1 L1321.8,465.1 L1321.5,466.1 L1321.2,467.1 L1320.9,468.1 L1320.6,469.1 L1320.3,470.1 L1320.1,471.1 L1319.8,472.1 L1319.6,473.1 L1319.5,474.1 L1319.3,475.1 L1319.2,476.1 L1319.0,477.1 L1318.9,478.1 L1318.9,479.1 L1318.8,480.1 L1318.8,481.1 L1318.8,482.1 L1318.9,483.1 L1319.0,484.1 L1319.1,485.1 L1319.2,486.1 L1319.4,487.1 L1319.6,488.1 L1319.9,489.1 L1320.2,490.1 L1320.5,491.1 L1320.8,492.1 L1321.3,493.1 L1321.7,494.1 L1322.2,495.1 L1322.7,496.1 L1323.3,497.1 L1323.9,498.1 L1324.6,499.1 L1325.3,500.1 L1326.0,501.1 L1326.8,502.1 L1327.6,503.1 L1328.5,504.1 L1329.4,505.1 L1330.4,506.1 L1331.4,507.1 L1332.4,508.1 L1333.5,509.1 L1334.6,510.1 L1335.7,511.1 L1336.9,512.1 L1338.1,513.1 L1339.4,514.1 L1340.7,515.1 L1342.0,516.1 L1343.3,517.1 L1344.7,518.1 L1346.1,519.1 L1347.5,520.1 L1349.0,521.1 L1350.4,522.1 L1351.9,523.1 L1353.4,524.1 L1354.9,525.1 L1356.4,526.1 L1357.9,527.1 L1359.4,528.1 L1360.9,529.1 L1362.5,530.1 L1364.0,531.1 L1365.5,532.1 L1367.0,533.1 L1368.5,534.1 L1370.0,535.1 L1371.5,536.1 L1372.9,537.1 L1374.4,538.1 L1375.8,539.1 L1377.2,540.1 L1378.6,541.1 L1380.0,542.1 L1381.3,543.1 L1382.6,544.1 L1383.9,545.1 L1385.2,546.1 L1386.4,547.1 L1387.6,548.1 L1388.8,549.1 L1390.0,550.1 L1391.1,551.1 L1392.2,552.1 L1393.2,553.1 L1394.2,554.1 L1395.2,555.1 L1396.2,556.1 L1397.1,557.1 L1398.0,558.1 L1398.8,559.1 L1399.6,560.1 L1400.4,561.1 L1401.2,562.1 L1401.9,563.1 L1402.6,564.1 L1403.2,565.1 L1403.9,566.1 L1404.5,567.1 L1405.0,568.1 L1405.6,569.1 L1406.1,570.1 L1406.6,571.1 L1407.1,572.1 L1407.5,573.1 L1407.9,574.1 L1408.3,575.1 L1408.7,576.1 L1409.0,577.1 L1409.4,578.1 L1409.7,579.1 L1410.0,580.1 L1410.3,581.1 L1410.5,582.1 L1410.8,583.1 L1411.0,584.1 L1411.2,585.1 L1411.4,586.1 L1411.6,587.1 L1411.7,588.1 L1411.9,589.1 L1412.0,590.1 L1412.2,591.1 L1412.3,592.1 L1412.4,593.1 L1412.5,594.1 L1412.6,595.1 L1412.7,596.1 L1412.8,597.1 L1412.9,598.1 L1413.0,599.1 L1413.0,600.1 L1413.1,601.1 L1413.2,602.1 L1413.2,603.1 L1413.2,604.0 L1414.2,604.0 L1414.2,603.1 L1414.2,602.1 L1414.3,601.1 L1414.4,600.1 L1414.4,599.1 L1414.5,598.1 L1414.6,597.1 L1414.7,596.1 L1414.8,595.1 L1414.9,594.1 L1415.0,593.1 L1415.1,592.1 L1415.2,591.1 L1415.4,590.1 L1415.5,589.1 L1415.7,588.1 L1415.8,587.1 L1416.0,586.1 L1416.2,585.1 L1416.4,584.1 L1416.6,583.1 L1416.9,582.1 L1417.1,581.1 L1417.4,580.1 L1417.7,579.1 L1418.0,578.1 L1418.4,577.1 L1418.7,576.1 L1419.1,575.1 L1419.5,574.1 L1419.9,573.1 L1420.3,572.1 L1420.8,571.1 L1421.3,570.1 L1421.8,569.1 L1422.4,568.1 L1422.9,567.1 L1423.5,566.1 L1424.2,565.1 L1424.8,564.1 L1425.5,563.1 L1426.2,562.1 L1427.0,561.1 L1427.8,560.1 L1428.6,559.1 L1429.4,558.1 L1430.3,557.1 L1431.2,556.1 L1432.2,555.1 L1433.2,554.1 L1434.2,553.1 L1435.2,552.1 L1436.3,551.1 L1437.4,550.1 L1438.6,549.1 L1439.8,548.1 L1441.0,547.1 L1442.2,546.1 L1443.5,545.1 L1444.8,544.1 L1446.1,543.1 L1447.4,542.1 L1448.8,541.1 L1450.2,540.1 L1451.6,539.1 L1453.0,538.1 L1454.5,537.1 L1455.9,536.1 L1457.4,535.1 L1458.9,534.1 L1460.4,533.1 L1461.9,532.1 L1463.4,531.1 L1464.9,530.1 L1466.5,529.1 L1468.0,528.1 L1469.5,527.1 L1471.0,526.1 L1472.5,525.1 L1474.0,524.1 L1475.5,523.1 L1477.0,522.1 L1478.4,521.1 L1479.9,520.1 L1481.3,519.1 L1482.7,518.1 L1484.1,517.1 L1485.4,516.1 L1486.7,515.1 L1488.0,514.1 L1489.3,513.1 L1490.5,512.1 L1491.7,511.1 L1492.8,510.1 L1493.9,509.1 L1495.0,508.1 L1496.0,507.1 L1497.0,506.1 L1498.0,505.1 L1498.9,504.1 L1499.8,503.1 L1500.6,502.1 L1501.4,501.1 L1502.1,500.1 L1502.8,499.1 L1503.5,498.1 L1504.1,497.1 L1504.7,496.1 L1505.2,495.1 L1505.7,494.1 L1506.1,493.1 L1506.6,492.1 L1506.9,491.1 L1507.2,490.1 L1507.5,489.1 L1507.8,488.1 L1508.0,487.1 L1508.2,486.1 L1508.3,485.1 L1508.4,484.1 L1508.5,483.1 L1508.6,482.1 L1508.6,481.1 L1508.6,480.1 L1508.5,479.1 L1508.5,478.1 L1508.4,477.1 L1508.2,476.1 L1508.1,475.1 L1507.9,474.1 L1507.8,473.1 L1507.6,472.1 L1507.3,471.1 L1507.1,470.1 L1506.8,469.1 L1506.5,468.1 L1506.2,467.1 L1505.9,466.1 L1505.6,465.1 L1505.3,464.1 L1504.9,463.1 L1504.6,462.1 L1504.2,461.1 L1503.8,460.1 L1503.4,459.1 L1503.0,458.1 L1502.6,457.1 L1502.2,456.1 L1501.8,455.1 L1501.3,454.1 L1500.9,453.1 L1500.5,452.1 L1500.0,451.1 L1499.6,450.1 L1499.1,449.1 L1498.7,448.1 L1498.2,447.1 L1497.8,446.1 L1497.4,445.1 L1496.9,444.1 L1496.5,443.1 L1496.1,442.1 L1495.6,441.1 L1495.2,440.1 L1494.8,439.1 L1494.4,438.1 L1494.0,437.1 L1493.7,436.1 L1493.3,435.1 L1493.0,434.1 L1492.6,433.1 L1492.3,432.1 L1492.0,431.1 L1491.8,430.1 L1491.5,429.1 L1491.3,428.1 L1491.1,427.1 L1490.9,426.1 L1490.8,425.1 L1490.6,424.1 L1490.5,423.1 L1490.5,422.1 L1490.4,421.1 L1490.4,420.1 L1490.4,419.1 L1490.5,418.1 L1490.6,417.1 L1490.7,416.1 L1490.9,415.1 L1491.1,414.1 L1491.3,413.1 L1491.6,412.1 L1491.9,411.1 L1492.2,410.1 L1492.5,409.1 L1492.9,408.1 L1493.4,407.1 L1493.8,406.1 L1494.3,405.1 L1494.8,404.1 L1495.3,403.1 L1495.9,402.1 L1496.5,401.1 L1497.1,400.1 L1497.7,399.1 L1498.4,398.1 L1499.0,397.1 L1499.7,396.1 L1500.4,395.1 L1501.1,394.1 L1501.8,393.1 L1502.4,392.1 L1503.1,391.1 L1503.8,390.1 L1504.5,389.1 L1505.1,388.1 L1505.8,387.1 L1506.4,386.1 L1507.0,385.1 L1507.6,384.1 L1508.1,383.1 L1508.6,382.1 L1509.1,381.1 L1509.5,380.1 L1509.9,379.1 L1510.2,378.1 L1510.5,377.1 L1510.8,376.1 L1510.9,375.1 L1511.1,374.1 L1511.1,373.1 L1511.1,372.1 L1511.1,371.1 L1510.9,370.1 L1510.8,369.1 L1510.5,368.1 L1510.2,367.1 L1509.8,366.1 L1509.3,365.1 L1508.7,364.1 L1508.1,363.1 L1507.5,362.1 L1506.7,361.1 L1505.9,360.1 L1505.0,359.1 L1504.0,358.1 L1503.0,357.1 L1501.9,356.1 L1500.8,355.1 L1499.5,354.1 L1498.3,353.1 L1497.0,352.1 L1495.6,351.1 L1494.1,350.1 L1492.7,349.1 L1491.2,348.1 L1489.6,347.1 L1488.0,346.1 L1486.4,345.1 L1484.7,344.1 L1483.0,343.1 L1481.3,342.1 L1479.6,341.1 L1477.8,340.1 L1476.0,339.1 L1474.3,338.1 L1472.5,337.1 L1470.7,336.1 L1468.9,335.1 L1467.1,334.1 L1465.4,333.1 L1463.6,332.1 L1461.9,331.1 L1460.1,330.1 L1458.4,329.1 L1456.7,328.1 L1455.1,327.1 L1453.4,326.1 L1451.8,325.1 L1450.2,324.1 L1448.7,323.1 L1447.2,322.1 L1445.7,321.1 L1444.2,320.1 L1442.8,319.1 L1441.5,318.1 L1440.1,317.1 L1438.9,316.1 L1437.6,315.1 L1436.4,314.1 L1435.3,313.1 L1434.1,312.1 L1433.1,311.1 L1432.0,310.1 L1431.1,309.1 L1430.1,308.1 L1429.2,307.1 L1428.4,306.1 L1427.5,305.1 L1426.8,304.1 L1426.0,303.1 L1425.3,302.1 L1424.7,301.1 L1424.1,300.1 L1423.5,299.1 L1423.0,298.1 L1422.5,297.1 L1422.0,296.1 L1421.6,295.1 L1421.2,294.1 L1420.8,293.1 L1420.5,292.1 L1420.2,291.1 L1420.0,290.1 L1419.7,289.1 L1419.5,288.1 L1419.3,287.1 L1419.2,286.1 L1419.1,285.1 L1419.0,284.1 L1418.9,283.1 L1418.9,282.1 L1418.9,281.1 L1418.9,280.1 L1418.9,279.1 L1419.0,278.1 L1419.0,277.1 L1419.1,276.1 L1419.3,275.1 L1419.4,274.1 L1419.6,273.1 L1419.7,272.1 L1419.9,271.1 L1420.2,270.1 L1420.4,269.1 L1420.6,268.1 L1420.9,267.1 L1421.2,266.1 L1421.5,265.1 L1421.8,264.1 L1422.1,263.1 L1422.5,262.1 L1422.8,261.1 L1423.2,260.1 L1423.6,259.1 L1423.9,258.1 L1424.3,257.1 L1424.7,256.1 L1425.2,255.1 L1425.6,254.1 L1426.0,253.1 L1426.4,252.1 L1426.9,251.1 L1427.3,250.1 L1427.7,249.1 L1428.2,248.1 L1428.6,247.1 L1429.1,246.1 L1429.5,245.1 L1429.9,244.1 L1430.4,243.1 L1430.8,242.1 L1431.2,241.1 L1431.6,240.1 L1432.0,239.1 L1432.4,238.1 L1432.8,237.1 L1433.2,236.1 L1433.5,235.1 L1433.9,234.1 L1434.2,233.1 L1434.5,232.1 L1434.8,231.1 L1435.1,230.1 L1435.4,229.1 L1435.6,228.1 L1435.8,227.1 L1436.0,226.1 L1436.2,225.1 L1436.4,224.1 L1436.5,223.1 L1436.6,222.1 L1436.7,221.1 L1436.8,220.1 L1436.8,219.1 L1436.8,218.1 L1436.8,217.1 L1436.8,216.1 L1436.8,215.1 L1436.7,214.1 L1436.6,213.1 L1436.5,212.1 L1436.3,211.1 L1436.2,210.1 L1436.0,209.1 L1435.8,208.1 L1435.6,207.1 L1435.3,206.1 L1435.0,205.1 L1434.8,204.1 L1434.4,203.1 L1434.1,202.1 L1433.8,201.1 L1433.4,200.1 L1433.1,199.1 L1432.7,198.1 L1432.3,197.1 L1431.9,196.1 L1431.5,195.1 L1431.1,194.1 L1430.7,193.1 L1430.2,192.1 L1429.8,191.1 L1429.4,190.1 L1428.9,189.1 L1428.5,188.1 L1428.0,187.1 L1427.6,186.1 L1427.1,185.1 L1426.7,184.1 L1426.2,183.1 L1425.8,182.1 L1425.3,181.1 L1424.9,180.1 L1424.5,179.1 L1424.0,178.1 L1423.6,177.1 L1423.2,176.1 L1422.8,175.1 L1422.4,174.1 L1422.0,173.1 L1421.7,172.1 L1421.3,171.1 L1420.9,170.1 L1420.6,169.1 L1420.2,168.1 L1419.9,167.1 L1419.6,166.1 L1419.3,165.1 L1419.0,164.1 L1418.7,163.1 L1418.4,162.1 L1418.2,161.1 L1417.9,160.1 L1417.7,159.1 L1417.4,158.1 L1417.2,157.1 L1417.0,156.1 L1416.8,155.1 L1416.6,154.1 L1416.4,153.1 L1416.2,152.1 L1416.1,151.1 L1415.9,150.1 L1415.8,149.1 L1415.6,148.1 L1415.5,147.1 L1415.4,146.1 L1415.2,145.1 L1415.1,144.1 L1415.0,143.1 L1414.9,142.1 L1414.8,141.1 L1414.8,140.1 L1414.7,139.1 L1414.6,138.1 L1414.5,137.1 L1414.5,136.1 L1414.4,135.1 L1414.3,134.1 L1414.3,133.1 L1414.2,132.1 L1414.2,131.1 L1414.1,130.1 L1414.1,129.1 L1414.1,128.1 L1414.0,127.1 L1414.0,126.1 L1414.0,125.1 L1414.0,124.1Z" fill="#000" stroke="#000" stroke-width="1.6" stroke-linejoin="round"/>
<line x1="1390.1" y1="217.7" x2="1437.3" y2="217.7" stroke="#fff" stroke-width="2.6"/>
<line x1="1382.5" y1="362.2" x2="1444.9" y2="362.2" stroke="#fff" stroke-width="2.6"/>
<line x1="1382.5" y1="365.2" x2="1444.9" y2="365.2" stroke="#fff" stroke-width="2.6"/>
<line x1="1382.5" y1="372.4" x2="1444.9" y2="372.4" stroke="#fff" stroke-width="2.6"/>
<line x1="1382.5" y1="385.8" x2="1444.9" y2="385.8" stroke="#fff" stroke-width="2.6"/>
<line x1="1382.5" y1="419.7" x2="1444.9" y2="419.7" stroke="#fff" stroke-width="2.6"/>
<line x1="1382.5" y1="457.7" x2="1444.9" y2="457.7" stroke="#fff" stroke-width="2.6"/>
<line x1="1382.5" y1="490.8" x2="1444.9" y2="490.8" stroke="#fff" stroke-width="2.6"/>
<line x1="1382.5" y1="498.2" x2="1444.9" y2="498.2" stroke="#fff" stroke-width="2.6"/>
<line x1="1382.5" y1="510.4" x2="1444.9" y2="510.4" stroke="#fff" stroke-width="2.6"/>
<line x1="1599.7" y1="338.4" x2="1968.3" y2="338.4" stroke="#000" stroke-width="4.6" stroke-linecap="round"/>
<line x1="1753.1" y1="231.1" x2="1815.5" y2="231.1" stroke="#000" stroke-width="2.4"/>
<path d="M1784.1,137.2 L1784.1,138.2 L1784.0,139.2 L1784.0,140.2 L1784.0,141.2 L1784.0,142.2 L1783.9,143.2 L1783.9,144.2 L1783.8,145.2 L1783.8,146.2 L1783.8,147.2 L1783.7,148.2 L1783.7,149.2 L1783.6,150.2 L1783.6,151.2 L1783.5,152.2 L1783.4,153.2 L1783.3,154.2 L1783.3,155.2 L1783.2,156.2 L1783.1,157.2 L1783.0,158.2 L1782.9,159.2 L1782.8,160.2 L1782.7,161.2 L1782.6,162.2 L1782.4,163.2 L1782.3,164.2 L1782.2,165.2 L1782.0,166.2 L1781.9,167.2 L1781.7,168.2 L1781.5,169.2 L1781.4,170.2 L1781.2,171.2 L1781.0,172.2 L1780.8,173.2 L1780.6,174.2 L1780.3,175.2 L1780.1,176.2 L1779.9,177.2 L1779.6,178.2 L1779.4,179.2 L1779.1,180.2 L1778.8,181.2 L1778.5,182.2 L1778.2,183.2 L1777.9,184.2 L1777.6,185.2 L1777.3,186.2 L1777.0,187.2 L1776.6,188.2 L1776.3,189.2 L1775.9,190.2 L1775.6,191.2 L1775.2,192.2 L1774.9,193.2 L1774.5,194.2 L1774.1,195.2 L1773.7,196.2 L1773.3,197.2 L1772.9,198.2 L1772.5,199.2 L1772.1,200.2 L1771.7,201.2 L1771.3,202.2 L1770.9,203.2 L1770.5,204.2 L1770.1,205.2 L1769.7,206.2 L1769.3,207.2 L1768.9,208.2 L1768.6,209.2 L1768.2,210.2 L1767.8,211.2 L1767.4,212.2 L1767.0,213.2 L1766.6,214.2 L1766.3,215.2 L1765.9,216.2 L1765.5,217.2 L1765.2,218.2 L1764.8,219.2 L1764.5,220.2 L1764.1,221.2 L1763.8,222.2 L1763.5,223.2 L1763.1,224.2 L1762.8,225.2 L1762.5,226.2 L1762.2,227.2 L1761.8,228.2 L1761.5,229.2 L1761.2,230.2 L1760.9,231.2 L1760.5,232.2 L1760.2,233.2 L1759.9,234.2 L1759.5,235.2 L1759.1,236.2 L1758.8,237.2 L1758.4,238.2 L1758.0,239.2 L1757.6,240.2 L1757.1,241.2 L1756.7,242.2 L1756.2,243.2 L1755.7,244.2 L1755.1,245.2 L1754.5,246.2 L1753.9,247.2 L1753.3,248.2 L1752.6,249.2 L1751.9,250.2 L1751.1,251.2 L1750.3,252.2 L1749.5,253.2 L1748.6,254.2 L1747.6,255.2 L1746.6,256.2 L1745.6,257.2 L1744.4,258.2 L1743.3,259.2 L1742.1,260.2 L1740.8,261.2 L1739.4,262.2 L1738.0,263.2 L1736.5,264.2 L1735.0,265.2 L1733.4,266.2 L1731.8,267.2 L1730.1,268.2 L1728.3,269.2 L1726.5,270.2 L1724.6,271.2 L1722.6,272.2 L1720.6,273.2 L1718.5,274.2 L1716.4,275.2 L1714.3,276.2 L1712.1,277.2 L1709.8,278.2 L1707.5,279.2 L1705.2,280.2 L1702.9,281.2 L1700.5,282.2 L1698.1,283.2 L1695.6,284.2 L1693.2,285.2 L1690.7,286.2 L1688.3,287.2 L1685.8,288.2 L1683.3,289.2 L1680.9,290.2 L1678.4,291.2 L1676.0,292.2 L1673.6,293.2 L1671.2,294.2 L1668.9,295.2 L1666.6,296.2 L1664.3,297.2 L1662.1,298.2 L1659.9,299.2 L1657.8,300.2 L1655.8,301.2 L1653.8,302.2 L1651.9,303.2 L1650.1,304.2 L1648.3,305.2 L1646.7,306.2 L1645.1,307.2 L1643.6,308.2 L1642.2,309.2 L1640.9,310.2 L1639.7,311.2 L1638.6,312.2 L1637.6,313.2 L1636.7,314.2 L1635.8,315.2 L1635.1,316.2 L1634.5,317.2 L1634.0,318.2 L1633.6,319.2 L1633.3,320.2 L1633.1,321.2 L1633.0,322.2 L1633.0,323.2 L1633.1,324.2 L1633.3,325.2 L1633.6,326.2 L1633.9,327.2 L1634.4,328.2 L1634.9,329.2 L1635.6,330.2 L1636.3,331.2 L1637.0,332.2 L1637.9,333.2 L1638.8,334.2 L1639.8,335.2 L1640.8,336.2 L1641.9,337.2 L1643.0,338.2 L1644.2,339.2 L1645.5,340.2 L1646.8,341.2 L1648.1,342.2 L1649.5,343.2 L1650.8,344.2 L1652.3,345.2 L1653.7,346.2 L1655.2,347.2 L1656.6,348.2 L1658.1,349.2 L1659.6,350.2 L1661.1,351.2 L1662.6,352.2 L1664.1,353.2 L1665.6,354.2 L1667.1,355.2 L1668.6,356.2 L1670.1,357.2 L1671.6,358.2 L1673.0,359.2 L1674.5,360.2 L1675.9,361.2 L1677.3,362.2 L1678.7,363.2 L1680.0,364.2 L1681.4,365.2 L1682.7,366.2 L1683.9,367.2 L1685.2,368.2 L1686.4,369.2 L1687.6,370.2 L1688.8,371.2 L1689.9,372.2 L1691.0,373.2 L1692.1,374.2 L1693.2,375.2 L1694.2,376.2 L1695.2,377.2 L1696.1,378.2 L1697.1,379.2 L1698.0,380.2 L1698.8,381.2 L1699.7,382.2 L1700.5,383.2 L1701.3,384.2 L1702.1,385.2 L1702.8,386.2 L1703.5,387.2 L1704.2,388.2 L1704.9,389.2 L1705.6,390.2 L1706.2,391.2 L1706.9,392.2 L1707.5,393.2 L1708.1,394.2 L1708.7,395.2 L1709.3,396.2 L1709.8,397.2 L1710.4,398.2 L1711.0,399.2 L1711.5,400.2 L1712.1,401.2 L1712.7,402.2 L1713.2,403.2 L1713.8,404.2 L1714.4,405.2 L1715.0,406.2 L1715.5,407.2 L1716.1,408.2 L1716.7,409.2 L1717.4,410.2 L1718.0,411.2 L1718.6,412.2 L1719.3,413.2 L1720.0,414.2 L1720.7,415.2 L1721.4,416.2 L1722.1,417.2 L1722.9,418.2 L1723.7,419.2 L1724.4,420.2 L1725.3,421.2 L1726.1,422.2 L1726.9,423.2 L1727.8,424.2 L1728.7,425.2 L1729.6,426.2 L1730.5,427.2 L1731.5,428.2 L1732.4,429.2 L1733.4,430.2 L1734.4,431.2 L1735.4,432.2 L1736.4,433.2 L1737.5,434.2 L1738.5,435.2 L1739.6,436.2 L1740.6,437.2 L1741.7,438.2 L1742.8,439.2 L1743.9,440.2 L1744.9,441.2 L1746.0,442.2 L1747.1,443.2 L1748.2,444.2 L1749.3,445.2 L1750.4,446.2 L1751.4,447.2 L1752.5,448.2 L1753.6,449.2 L1754.6,450.2 L1755.7,451.2 L1756.7,452.2 L1757.7,453.2 L1758.7,454.2 L1759.7,455.2 L1760.6,456.2 L1761.6,457.2 L1762.5,458.2 L1763.4,459.2 L1764.3,460.2 L1765.2,461.2 L1766.0,462.2 L1766.9,463.2 L1767.7,464.2 L1768.5,465.2 L1769.2,466.2 L1770.0,467.2 L1770.7,468.2 L1771.4,469.2 L1772.0,470.2 L1772.7,471.2 L1773.3,472.2 L1773.9,473.2 L1774.5,474.2 L1775.0,475.2 L1775.6,476.2 L1776.1,477.2 L1776.5,478.2 L1777.0,479.2 L1777.4,480.2 L1777.9,481.2 L1778.3,482.2 L1778.7,483.2 L1779.0,484.2 L1779.4,485.2 L1779.7,486.2 L1780.0,487.2 L1780.3,488.2 L1780.6,489.2 L1780.8,490.2 L1781.1,491.2 L1781.3,492.2 L1781.5,493.2 L1781.7,494.2 L1781.9,495.2 L1782.1,496.2 L1782.3,497.2 L1782.4,498.2 L1782.6,499.2 L1782.7,500.2 L1782.8,501.2 L1782.9,502.2 L1783.1,503.2 L1783.2,504.2 L1783.3,505.2 L1783.3,506.2 L1783.4,507.2 L1783.5,508.2 L1783.6,509.2 L1783.6,510.2 L1783.7,511.2 L1783.7,512.2 L1783.8,513.2 L1783.8,514.2 L1783.9,515.2 L1783.9,516.2 L1784.0,517.2 L1784.0,518.2 L1784.0,518.7 L1784.6,518.7 L1784.6,518.2 L1784.6,517.2 L1784.7,516.2 L1784.7,515.2 L1784.8,514.2 L1784.8,513.2 L1784.9,512.2 L1784.9,511.2 L1785.0,510.2 L1785.0,509.2 L1785.1,508.2 L1785.2,507.2 L1785.3,506.2 L1785.3,505.2 L1785.4,504.2 L1785.5,503.2 L1785.7,502.2 L1785.8,501.2 L1785.9,500.2 L1786.0,499.2 L1786.2,498.2 L1786.3,497.2 L1786.5,496.2 L1786.7,495.2 L1786.9,494.2 L1787.1,493.2 L1787.3,492.2 L1787.5,491.2 L1787.8,490.2 L1788.0,489.2 L1788.3,488.2 L1788.6,487.2 L1788.9,486.2 L1789.2,485.2 L1789.6,484.2 L1789.9,483.2 L1790.3,482.2 L1790.7,481.2 L1791.2,480.2 L1791.6,479.2 L1792.1,478.2 L1792.5,477.2 L1793.0,476.2 L1793.6,475.2 L1794.1,474.2 L1794.7,473.2 L1795.3,472.2 L1795.9,471.2 L1796.6,470.2 L1797.2,469.2 L1797.9,468.2 L1798.6,467.2 L1799.4,466.2 L1800.1,465.2 L1800.9,464.2 L1801.7,463.2 L1802.6,462.2 L1803.4,461.2 L1804.3,460.2 L1805.2,459.2 L1806.1,458.2 L1807.0,457.2 L1808.0,456.2 L1808.9,455.2 L1809.9,454.2 L1810.9,453.2 L1811.9,452.2 L1812.9,451.2 L1814.0,450.2 L1815.0,449.2 L1816.1,448.2 L1817.2,447.2 L1818.2,446.2 L1819.3,445.2 L1820.4,444.2 L1821.5,443.2 L1822.6,442.2 L1823.7,441.2 L1824.7,440.2 L1825.8,439.2 L1826.9,438.2 L1828.0,437.2 L1829.0,436.2 L1830.1,435.2 L1831.1,434.2 L1832.2,433.2 L1833.2,432.2 L1834.2,431.2 L1835.2,430.2 L1836.2,429.2 L1837.1,428.2 L1838.1,427.2 L1839.0,426.2 L1839.9,425.2 L1840.8,424.2 L1841.7,423.2 L1842.5,422.2 L1843.3,421.2 L1844.2,420.2 L1844.9,419.2 L1845.7,418.2 L1846.5,417.2 L1847.2,416.2 L1847.9,415.2 L1848.6,414.2 L1849.3,413.2 L1850.0,412.2 L1850.6,411.2 L1851.2,410.2 L1851.9,409.2 L1852.5,408.2 L1853.1,407.2 L1853.6,406.2 L1854.2,405.2 L1854.8,404.2 L1855.4,403.2 L1855.9,402.2 L1856.5,401.2 L1857.1,400.2 L1857.6,399.2 L1858.2,398.2 L1858.8,397.2 L1859.3,396.2 L1859.9,395.2 L1860.5,394.2 L1861.1,393.2 L1861.7,392.2 L1862.4,391.2 L1863.0,390.2 L1863.7,389.2 L1864.4,388.2 L1865.1,387.2 L1865.8,386.2 L1866.5,385.2 L1867.3,384.2 L1868.1,383.2 L1868.9,382.2 L1869.8,381.2 L1870.6,380.2 L1871.5,379.2 L1872.5,378.2 L1873.4,377.2 L1874.4,376.2 L1875.4,375.2 L1876.5,374.2 L1877.6,373.2 L1878.7,372.2 L1879.8,371.2 L1881.0,370.2 L1882.2,369.2 L1883.4,368.2 L1884.7,367.2 L1885.9,366.2 L1887.2,365.2 L1888.6,364.2 L1889.9,363.2 L1891.3,362.2 L1892.7,361.2 L1894.1,360.2 L1895.6,359.2 L1897.0,358.2 L1898.5,357.2 L1900.0,356.2 L1901.5,355.2 L1903.0,354.2 L1904.5,353.2 L1906.0,352.2 L1907.5,351.2 L1909.0,350.2 L1910.5,349.2 L1912.0,348.2 L1913.4,347.2 L1914.9,346.2 L1916.3,345.2 L1917.8,344.2 L1919.1,343.2 L1920.5,342.2 L1921.8,341.2 L1923.1,340.2 L1924.4,339.2 L1925.6,338.2 L1926.7,337.2 L1927.8,336.2 L1928.8,335.2 L1929.8,334.2 L1930.7,333.2 L1931.6,332.2 L1932.3,331.2 L1933.0,330.2 L1933.7,329.2 L1934.2,328.2 L1934.7,327.2 L1935.0,326.2 L1935.3,325.2 L1935.5,324.2 L1935.6,323.2 L1935.6,322.2 L1935.5,321.2 L1935.3,320.2 L1935.0,319.2 L1934.6,318.2 L1934.1,317.2 L1933.5,316.2 L1932.8,315.2 L1931.9,314.2 L1931.0,313.2 L1930.0,312.2 L1928.9,311.2 L1927.7,310.2 L1926.4,309.2 L1925.0,308.2 L1923.5,307.2 L1921.9,306.2 L1920.3,305.2 L1918.5,304.2 L1916.7,303.2 L1914.8,302.2 L1912.8,301.2 L1910.8,300.2 L1908.7,299.2 L1906.5,298.2 L1904.3,297.2 L1902.0,296.2 L1899.7,295.2 L1897.4,294.2 L1895.0,293.2 L1892.6,292.2 L1890.2,291.2 L1887.7,290.2 L1885.3,289.2 L1882.8,288.2 L1880.3,287.2 L1877.9,286.2 L1875.4,285.2 L1873.0,284.2 L1870.5,283.2 L1868.1,282.2 L1865.7,281.2 L1863.4,280.2 L1861.1,279.2 L1858.8,278.2 L1856.5,277.2 L1854.3,276.2 L1852.2,275.2 L1850.1,274.2 L1848.0,273.2 L1846.0,272.2 L1844.0,271.2 L1842.1,270.2 L1840.3,269.2 L1838.5,268.2 L1836.8,267.2 L1835.2,266.2 L1833.6,265.2 L1832.1,264.2 L1830.6,263.2 L1829.2,262.2 L1827.8,261.2 L1826.5,260.2 L1825.3,259.2 L1824.2,258.2 L1823.0,257.2 L1822.0,256.2 L1821.0,255.2 L1820.0,254.2 L1819.1,253.2 L1818.3,252.2 L1817.5,251.2 L1816.7,250.2 L1816.0,249.2 L1815.3,248.2 L1814.7,247.2 L1814.1,246.2 L1813.5,245.2 L1812.9,244.2 L1812.4,243.2 L1811.9,242.2 L1811.5,241.2 L1811.0,240.2 L1810.6,239.2 L1810.2,238.2 L1809.8,237.2 L1809.5,236.2 L1809.1,235.2 L1808.7,234.2 L1808.4,233.2 L1808.1,232.2 L1807.7,231.2 L1807.4,230.2 L1807.1,229.2 L1806.8,228.2 L1806.4,227.2 L1806.1,226.2 L1805.8,225.2 L1805.5,224.2 L1805.1,223.2 L1804.8,222.2 L1804.5,221.2 L1804.1,220.2 L1803.8,219.2 L1803.4,218.2 L1803.1,217.2 L1802.7,216.2 L1802.3,215.2 L1802.0,214.2 L1801.6,213.2 L1801.2,212.2 L1800.8,211.2 L1800.4,210.2 L1800.0,209.2 L1799.7,208.2 L1799.3,207.2 L1798.9,206.2 L1798.5,205.2 L1798.1,204.2 L1797.7,203.2 L1797.3,202.2 L1796.9,201.2 L1796.5,200.2 L1796.1,199.2 L1795.7,198.2 L1795.3,197.2 L1794.9,196.2 L1794.5,195.2 L1794.1,194.2 L1793.7,193.2 L1793.4,192.2 L1793.0,191.2 L1792.7,190.2 L1792.3,189.2 L1792.0,188.2 L1791.6,187.2 L1791.3,186.2 L1791.0,185.2 L1790.7,184.2 L1790.4,183.2 L1790.1,182.2 L1789.8,181.2 L1789.5,180.2 L1789.2,179.2 L1789.0,178.2 L1788.7,177.2 L1788.5,176.2 L1788.3,175.2 L1788.0,174.2 L1787.8,173.2 L1787.6,172.2 L1787.4,171.2 L1787.2,170.2 L1787.1,169.2 L1786.9,168.2 L1786.7,167.2 L1786.6,166.2 L1786.4,165.2 L1786.3,164.2 L1786.2,163.2 L1786.0,162.2 L1785.9,161.2 L1785.8,160.2 L1785.7,159.2 L1785.6,158.2 L1785.5,157.2 L1785.4,156.2 L1785.3,155.2 L1785.3,154.2 L1785.2,153.2 L1785.1,152.2 L1785.0,151.2 L1785.0,150.2 L1784.9,149.2 L1784.9,148.2 L1784.8,147.2 L1784.8,146.2 L1784.8,145.2 L1784.7,144.2 L1784.7,143.2 L1784.6,142.2 L1784.6,141.2 L1784.6,140.2 L1784.6,139.2 L1784.5,138.2 L1784.5,137.2Z" fill="#000" stroke="#000" stroke-width="1.6" stroke-linejoin="round"/>
<line x1="1760.4" y1="231.1" x2="1808.2" y2="231.1" stroke="#fff" stroke-width="2.6"/>
<line x1="1753.1" y1="305.2" x2="1815.5" y2="305.2" stroke="#fff" stroke-width="2.6"/>
<line x1="1753.1" y1="314.7" x2="1815.5" y2="314.7" stroke="#fff" stroke-width="2.6"/>
<line x1="1753.1" y1="324.7" x2="1815.5" y2="324.7" stroke="#fff" stroke-width="2.6"/>
<line x1="1753.1" y1="327.6" x2="1815.5" y2="327.6" stroke="#fff" stroke-width="2.6"/>
<line x1="1753.1" y1="330" x2="1815.5" y2="330" stroke="#fff" stroke-width="2.6"/>
<line x1="1753.1" y1="357.4" x2="1815.5" y2="357.4" stroke="#fff" stroke-width="2.6"/>
<line x1="1753.1" y1="384.8" x2="1815.5" y2="384.8" stroke="#fff" stroke-width="2.6"/>
<line x1="1753.1" y1="415.3" x2="1815.5" y2="415.3" stroke="#fff" stroke-width="2.6"/>
<line x1="1753.1" y1="424.8" x2="1815.5" y2="424.8" stroke="#fff" stroke-width="2.6"/>
<rect x="1199.6" y="105.2" width="799.1" height="517.8" fill="none" stroke="#262626" stroke-width="2.5" stroke-linejoin="round"/>
<line x1="1179.2" y1="117.4" x2="1199.6" y2="117.4" stroke="#262626" stroke-width="2.5" stroke-linecap="round"/>
<text transform="translate(1153,117.4) rotate(-90)" text-anchor="middle" font-size="32.5" fill="#111">160</text>
<line x1="1179.2" y1="180.0" x2="1199.6" y2="180.0" stroke="#262626" stroke-width="2.5" stroke-linecap="round"/>
<line x1="1179.2" y1="252.1" x2="1199.6" y2="252.1" stroke="#262626" stroke-width="2.5" stroke-linecap="round"/>
<text transform="translate(1153,252.1) rotate(-90)" text-anchor="middle" font-size="32.5" fill="#111">120</text>
<line x1="1179.2" y1="335.5" x2="1199.6" y2="335.5" stroke="#262626" stroke-width="2.5" stroke-linecap="round"/>
<text transform="translate(1153,335.5) rotate(-90)" text-anchor="middle" font-size="32.5" fill="#111">100</text>
<line x1="1179.2" y1="439.4" x2="1199.6" y2="439.4" stroke="#262626" stroke-width="2.5" stroke-linecap="round"/>
<text transform="translate(1153,439.4) rotate(-90)" text-anchor="middle" font-size="32.5" fill="#111">80</text>
<line x1="1179.2" y1="572.1" x2="1199.6" y2="572.1" stroke="#262626" stroke-width="2.5" stroke-linecap="round"/>
<text transform="translate(1153,572.1) rotate(-90)" text-anchor="middle" font-size="32.5" fill="#111">60</text>
<line x1="1413.7" y1="623.0" x2="1413.7" y2="642.3" stroke="#262626" stroke-width="2.5" stroke-linecap="round"/>
<line x1="1784.3" y1="623.0" x2="1784.3" y2="642.3" stroke="#262626" stroke-width="2.5" stroke-linecap="round"/>
<text x="1597.3" y="41.8" text-anchor="middle" font-size="43.7" font-weight="bold" fill="#000">Glutamate</text>
<text transform="translate(1090.8,354.9) rotate(-90)" text-anchor="middle" font-size="43.2" font-weight="bold" fill="#000">Glutamate, µM</text>
<text x="1285.1000000000001" y="699.4" font-size="43.5" font-weight="bold" fill="#000">Pre-Exercise</text>
<text x="1644.9" y="699.4" font-size="43.5" font-weight="bold" fill="#000">Post-Exercise</text>
<line x1="1515.2" y1="171.4" x2="1666.2" y2="171.4" stroke="#a6a6a6" stroke-width="3"/>
<text x="1592.5" y="170.1" text-anchor="middle" font-size="30" font-weight="bold" letter-spacing="1.5" fill="#1a1a1a">*</text>
</g>
<g>
<line x1="162.5" y1="1215.1" x2="962.3" y2="1215.1" stroke="#2a2a2a" stroke-width="2.7" stroke-dasharray="3 9.78" />
<line x1="194.0" y1="1275.2" x2="561.1" y2="1275.2" stroke="#000" stroke-width="4.6" stroke-linecap="round"/>
<line x1="345.8" y1="1391.8" x2="408.2" y2="1391.8" stroke="#000" stroke-width="2.4"/>
<path d="M376.8,1097.5 L376.8,1098.5 L376.7,1099.5 L376.7,1100.5 L376.7,1101.5 L376.6,1102.5 L376.6,1103.5 L376.5,1104.5 L376.5,1105.5 L376.4,1106.5 L376.4,1107.5 L376.3,1108.5 L376.3,1109.5 L376.2,1110.5 L376.1,1111.5 L376.0,1112.5 L375.9,1113.5 L375.8,1114.5 L375.7,1115.5 L375.6,1116.5 L375.5,1117.5 L375.4,1118.5 L375.2,1119.5 L375.1,1120.5 L374.9,1121.5 L374.8,1122.5 L374.6,1123.5 L374.4,1124.5 L374.2,1125.5 L374.0,1126.5 L373.8,1127.5 L373.6,1128.5 L373.3,1129.5 L373.1,1130.5 L372.8,1131.5 L372.5,1132.5 L372.2,1133.5 L371.9,1134.5 L371.6,1135.5 L371.2,1136.5 L370.9,1137.5 L370.5,1138.5 L370.1,1139.5 L369.7,1140.5 L369.3,1141.5 L368.9,1142.5 L368.4,1143.5 L368.0,1144.5 L367.5,1145.5 L367.0,1146.5 L366.5,1147.5 L366.0,1148.5 L365.5,1149.5 L365.0,1150.5 L364.4,1151.5 L363.9,1152.5 L363.3,1153.5 L362.7,1154.5 L362.1,1155.5 L361.5,1156.5 L360.9,1157.5 L360.2,1158.5 L359.6,1159.5 L359.0,1160.5 L358.3,1161.5 L357.6,1162.5 L356.9,1163.5 L356.3,1164.5 L355.6,1165.5 L354.9,1166.5 L354.1,1167.5 L353.4,1168.5 L352.7,1169.5 L351.9,1170.5 L351.2,1171.5 L350.4,1172.5 L349.7,1173.5 L348.9,1174.5 L348.1,1175.5 L347.3,1176.5 L346.5,1177.5 L345.6,1178.5 L344.8,1179.5 L343.9,1180.5 L343.1,1181.5 L342.2,1182.5 L341.3,1183.5 L340.4,1184.5 L339.5,1185.5 L338.5,1186.5 L337.5,1187.5 L336.6,1188.5 L335.5,1189.5 L334.5,1190.5 L333.5,1191.5 L332.4,1192.5 L331.3,1193.5 L330.2,1194.5 L329.1,1195.5 L327.9,1196.5 L326.7,1197.5 L325.5,1198.5 L324.3,1199.5 L323.1,1200.5 L321.8,1201.5 L320.5,1202.5 L319.2,1203.5 L317.9,1204.5 L316.5,1205.5 L315.1,1206.5 L313.8,1207.5 L312.4,1208.5 L310.9,1209.5 L309.5,1210.5 L308.1,1211.5 L306.7,1212.5 L305.2,1213.5 L303.8,1214.5 L302.3,1215.5 L300.9,1216.5 L299.4,1217.5 L298.0,1218.5 L296.6,1219.5 L295.2,1220.5 L293.8,1221.5 L292.4,1222.5 L291.1,1223.5 L289.8,1224.5 L288.5,1225.5 L287.2,1226.5 L286.0,1227.5 L284.8,1228.5 L283.6,1229.5 L282.5,1230.5 L281.4,1231.5 L280.4,1232.5 L279.5,1233.5 L278.5,1234.5 L277.7,1235.5 L276.9,1236.5 L276.1,1237.5 L275.5,1238.5 L274.8,1239.5 L274.3,1240.5 L273.8,1241.5 L273.4,1242.5 L273.0,1243.5 L272.7,1244.5 L272.5,1245.5 L272.3,1246.5 L272.2,1247.5 L272.2,1248.5 L272.2,1249.5 L272.3,1250.5 L272.5,1251.5 L272.8,1252.5 L273.1,1253.5 L273.4,1254.5 L273.8,1255.5 L274.3,1256.5 L274.9,1257.5 L275.4,1258.5 L276.1,1259.5 L276.8,1260.5 L277.5,1261.5 L278.3,1262.5 L279.1,1263.5 L280.0,1264.5 L280.9,1265.5 L281.8,1266.5 L282.8,1267.5 L283.8,1268.5 L284.8,1269.5 L285.9,1270.5 L286.9,1271.5 L288.0,1272.5 L289.1,1273.5 L290.2,1274.5 L291.3,1275.5 L292.4,1276.5 L293.5,1277.5 L294.6,1278.5 L295.7,1279.5 L296.8,1280.5 L297.9,1281.5 L299.0,1282.5 L300.0,1283.5 L301.1,1284.5 L302.1,1285.5 L303.1,1286.5 L304.1,1287.5 L305.0,1288.5 L305.9,1289.5 L306.8,1290.5 L307.7,1291.5 L308.5,1292.5 L309.3,1293.5 L310.1,1294.5 L310.9,1295.5 L311.6,1296.5 L312.2,1297.5 L312.9,1298.5 L313.5,1299.5 L314.1,1300.5 L314.6,1301.5 L315.1,1302.5 L315.6,1303.5 L316.0,1304.5 L316.5,1305.5 L316.9,1306.5 L317.2,1307.5 L317.6,1308.5 L317.9,1309.5 L318.2,1310.5 L318.4,1311.5 L318.7,1312.5 L318.9,1313.5 L319.1,1314.5 L319.3,1315.5 L319.5,1316.5 L319.6,1317.5 L319.8,1318.5 L320.0,1319.5 L320.1,1320.5 L320.3,1321.5 L320.4,1322.5 L320.6,1323.5 L320.7,1324.5 L320.9,1325.5 L321.0,1326.5 L321.2,1327.5 L321.4,1328.5 L321.6,1329.5 L321.8,1330.5 L322.0,1331.5 L322.2,1332.5 L322.5,1333.5 L322.7,1334.5 L323.0,1335.5 L323.3,1336.5 L323.6,1337.5 L323.9,1338.5 L324.3,1339.5 L324.6,1340.5 L325.0,1341.5 L325.4,1342.5 L325.9,1343.5 L326.3,1344.5 L326.7,1345.5 L327.2,1346.5 L327.7,1347.5 L328.2,1348.5 L328.7,1349.5 L329.2,1350.5 L329.8,1351.5 L330.3,1352.5 L330.8,1353.5 L331.4,1354.5 L332.0,1355.5 L332.5,1356.5 L333.1,1357.5 L333.7,1358.5 L334.3,1359.5 L334.8,1360.5 L335.4,1361.5 L336.0,1362.5 L336.5,1363.5 L337.1,1364.5 L337.7,1365.5 L338.2,1366.5 L338.8,1367.5 L339.3,1368.5 L339.9,1369.5 L340.4,1370.5 L340.9,1371.5 L341.4,1372.5 L341.9,1373.5 L342.4,1374.5 L342.9,1375.5 L343.4,1376.5 L343.9,1377.5 L344.4,1378.5 L344.9,1379.5 L345.3,1380.5 L345.8,1381.5 L346.3,1382.5 L346.7,1383.5 L347.2,1384.5 L347.6,1385.5 L348.1,1386.5 L348.5,1387.5 L349.0,1388.5 L349.4,1389.5 L349.9,1390.5 L350.3,1391.5 L350.8,1392.5 L351.2,1393.5 L351.7,1394.5 L352.2,1395.5 L352.6,1396.5 L353.1,1397.5 L353.6,1398.5 L354.1,1399.5 L354.6,1400.5 L355.0,1401.5 L355.5,1402.5 L356.0,1403.5 L356.5,1404.5 L357.1,1405.5 L357.6,1406.5 L358.1,1407.5 L358.6,1408.5 L359.1,1409.5 L359.6,1410.5 L360.1,1411.5 L360.7,1412.5 L361.2,1413.5 L361.7,1414.5 L362.2,1415.5 L362.7,1416.5 L363.2,1417.5 L363.7,1418.5 L364.2,1419.5 L364.7,1420.5 L365.2,1421.5 L365.7,1422.5 L366.2,1423.5 L366.6,1424.5 L367.1,1425.5 L367.5,1426.5 L368.0,1427.5 L368.4,1428.5 L368.8,1429.5 L369.2,1430.5 L369.6,1431.5 L370.0,1432.5 L370.4,1433.5 L370.7,1434.5 L371.1,1435.5 L371.4,1436.5 L371.7,1437.5 L372.0,1438.5 L372.3,1439.5 L372.6,1440.5 L372.9,1441.5 L373.1,1442.5 L373.4,1443.5 L373.6,1444.5 L373.8,1445.5 L374.1,1446.5 L374.3,1447.5 L374.5,1448.5 L374.6,1449.5 L374.8,1450.5 L375.0,1451.5 L375.1,1452.5 L375.3,1453.5 L375.4,1454.5 L375.5,1455.5 L375.6,1456.5 L375.8,1457.5 L375.9,1458.5 L375.9,1459.5 L376.0,1460.5 L376.1,1461.5 L376.2,1462.5 L376.3,1463.5 L376.3,1464.5 L376.4,1465.5 L376.4,1466.5 L376.5,1467.5 L376.5,1468.5 L376.6,1469.5 L376.6,1470.5 L376.7,1471.5 L376.7,1472.5 L376.7,1473.5 L376.8,1474.5 L376.8,1475.5 L377.2,1475.5 L377.2,1474.5 L377.3,1473.5 L377.3,1472.5 L377.3,1471.5 L377.4,1470.5 L377.4,1469.5 L377.5,1468.5 L377.5,1467.5 L377.6,1466.5 L377.6,1465.5 L377.7,1464.5 L377.7,1463.5 L377.8,1462.5 L377.9,1461.5 L378.0,1460.5 L378.1,1459.5 L378.1,1458.5 L378.2,1457.5 L378.4,1456.5 L378.5,1455.5 L378.6,1454.5 L378.7,1453.5 L378.9,1452.5 L379.0,1451.5 L379.2,1450.5 L379.4,1449.5 L379.5,1448.5 L379.7,1447.5 L379.9,1446.5 L380.2,1445.5 L380.4,1444.5 L380.6,1443.5 L380.9,1442.5 L381.1,1441.5 L381.4,1440.5 L381.7,1439.5 L382.0,1438.5 L382.3,1437.5 L382.6,1436.5 L382.9,1435.5 L383.3,1434.5 L383.6,1433.5 L384.0,1432.5 L384.4,1431.5 L384.8,1430.5 L385.2,1429.5 L385.6,1428.5 L386.0,1427.5 L386.5,1426.5 L386.9,1425.5 L387.4,1424.5 L387.8,1423.5 L388.3,1422.5 L388.8,1421.5 L389.3,1420.5 L389.8,1419.5 L390.3,1418.5 L390.8,1417.5 L391.3,1416.5 L391.8,1415.5 L392.3,1414.5 L392.8,1413.5 L393.3,1412.5 L393.9,1411.5 L394.4,1410.5 L394.9,1409.5 L395.4,1408.5 L395.9,1407.5 L396.4,1406.5 L396.9,1405.5 L397.5,1404.5 L398.0,1403.5 L398.5,1402.5 L399.0,1401.5 L399.4,1400.5 L399.9,1399.5 L400.4,1398.5 L400.9,1397.5 L401.4,1396.5 L401.8,1395.5 L402.3,1394.5 L402.8,1393.5 L403.2,1392.5 L403.7,1391.5 L404.1,1390.5 L404.6,1389.5 L405.0,1388.5 L405.5,1387.5 L405.9,1386.5 L406.4,1385.5 L406.8,1384.5 L407.3,1383.5 L407.7,1382.5 L408.2,1381.5 L408.7,1380.5 L409.1,1379.5 L409.6,1378.5 L410.1,1377.5 L410.6,1376.5 L411.1,1375.5 L411.6,1374.5 L412.1,1373.5 L412.6,1372.5 L413.1,1371.5 L413.6,1370.5 L414.1,1369.5 L414.7,1368.5 L415.2,1367.5 L415.8,1366.5 L416.3,1365.5 L416.9,1364.5 L417.5,1363.5 L418.0,1362.5 L418.6,1361.5 L419.2,1360.5 L419.7,1359.5 L420.3,1358.5 L420.9,1357.5 L421.5,1356.5 L422.0,1355.5 L422.6,1354.5 L423.2,1353.5 L423.7,1352.5 L424.2,1351.5 L424.8,1350.5 L425.3,1349.5 L425.8,1348.5 L426.3,1347.5 L426.8,1346.5 L427.3,1345.5 L427.7,1344.5 L428.1,1343.5 L428.6,1342.5 L429.0,1341.5 L429.4,1340.5 L429.7,1339.5 L430.1,1338.5 L430.4,1337.5 L430.7,1336.5 L431.0,1335.5 L431.3,1334.5 L431.5,1333.5 L431.8,1332.5 L432.0,1331.5 L432.2,1330.5 L432.4,1329.5 L432.6,1328.5 L432.8,1327.5 L433.0,1326.5 L433.1,1325.5 L433.3,1324.5 L433.4,1323.5 L433.6,1322.5 L433.7,1321.5 L433.9,1320.5 L434.0,1319.5 L434.2,1318.5 L434.4,1317.5 L434.5,1316.5 L434.7,1315.5 L434.9,1314.5 L435.1,1313.5 L435.3,1312.5 L435.6,1311.5 L435.8,1310.5 L436.1,1309.5 L436.4,1308.5 L436.8,1307.5 L437.1,1306.5 L437.5,1305.5 L438.0,1304.5 L438.4,1303.5 L438.9,1302.5 L439.4,1301.5 L439.9,1300.5 L440.5,1299.5 L441.1,1298.5 L441.8,1297.5 L442.4,1296.5 L443.1,1295.5 L443.9,1294.5 L444.7,1293.5 L445.5,1292.5 L446.3,1291.5 L447.2,1290.5 L448.1,1289.5 L449.0,1288.5 L449.9,1287.5 L450.9,1286.5 L451.9,1285.5 L452.9,1284.5 L454.0,1283.5 L455.0,1282.5 L456.1,1281.5 L457.2,1280.5 L458.3,1279.5 L459.4,1278.5 L460.5,1277.5 L461.6,1276.5 L462.7,1275.5 L463.8,1274.5 L464.9,1273.5 L466.0,1272.5 L467.1,1271.5 L468.1,1270.5 L469.2,1269.5 L470.2,1268.5 L471.2,1267.5 L472.2,1266.5 L473.1,1265.5 L474.0,1264.5 L474.9,1263.5 L475.7,1262.5 L476.5,1261.5 L477.2,1260.5 L477.9,1259.5 L478.6,1258.5 L479.1,1257.5 L479.7,1256.5 L480.2,1255.5 L480.6,1254.5 L480.9,1253.5 L481.2,1252.5 L481.5,1251.5 L481.7,1250.5 L481.8,1249.5 L481.8,1248.5 L481.8,1247.5 L481.7,1246.5 L481.5,1245.5 L481.3,1244.5 L481.0,1243.5 L480.6,1242.5 L480.2,1241.5 L479.7,1240.5 L479.2,1239.5 L478.5,1238.5 L477.9,1237.5 L477.1,1236.5 L476.3,1235.5 L475.5,1234.5 L474.5,1233.5 L473.6,1232.5 L472.6,1231.5 L471.5,1230.5 L470.4,1229.5 L469.2,1228.5 L468.0,1227.5 L466.8,1226.5 L465.5,1225.5 L464.2,1224.5 L462.9,1223.5 L461.6,1222.5 L460.2,1221.5 L458.8,1220.5 L457.4,1219.5 L456.0,1218.5 L454.6,1217.5 L453.1,1216.5 L451.7,1215.5 L450.2,1214.5 L448.8,1213.5 L447.3,1212.5 L445.9,1211.5 L444.5,1210.5 L443.1,1209.5 L441.6,1208.5 L440.2,1207.5 L438.9,1206.5 L437.5,1205.5 L436.1,1204.5 L434.8,1203.5 L433.5,1202.5 L432.2,1201.5 L430.9,1200.5 L429.7,1199.5 L428.5,1198.5 L427.3,1197.5 L426.1,1196.5 L424.9,1195.5 L423.8,1194.5 L422.7,1193.5 L421.6,1192.5 L420.5,1191.5 L419.5,1190.5 L418.5,1189.5 L417.4,1188.5 L416.5,1187.5 L415.5,1186.5 L414.5,1185.5 L413.6,1184.5 L412.7,1183.5 L411.8,1182.5 L410.9,1181.5 L410.1,1180.5 L409.2,1179.5 L408.4,1178.5 L407.5,1177.5 L406.7,1176.5 L405.9,1175.5 L405.1,1174.5 L404.3,1173.5 L403.6,1172.5 L402.8,1171.5 L402.1,1170.5 L401.3,1169.5 L400.6,1168.5 L399.9,1167.5 L399.1,1166.5 L398.4,1165.5 L397.7,1164.5 L397.1,1163.5 L396.4,1162.5 L395.7,1161.5 L395.0,1160.5 L394.4,1159.5 L393.8,1158.5 L393.1,1157.5 L392.5,1156.5 L391.9,1155.5 L391.3,1154.5 L390.7,1153.5 L390.1,1152.5 L389.6,1151.5 L389.0,1150.5 L388.5,1149.5 L388.0,1148.5 L387.5,1147.5 L387.0,1146.5 L386.5,1145.5 L386.0,1144.5 L385.6,1143.5 L385.1,1142.5 L384.7,1141.5 L384.3,1140.5 L383.9,1139.5 L383.5,1138.5 L383.1,1137.5 L382.8,1136.5 L382.4,1135.5 L382.1,1134.5 L381.8,1133.5 L381.5,1132.5 L381.2,1131.5 L380.9,1130.5 L380.7,1129.5 L380.4,1128.5 L380.2,1127.5 L380.0,1126.5 L379.8,1125.5 L379.6,1124.5 L379.4,1123.5 L379.2,1122.5 L379.1,1121.5 L378.9,1120.5 L378.8,1119.5 L378.6,1118.5 L378.5,1117.5 L378.4,1116.5 L378.3,1115.5 L378.2,1114.5 L378.1,1113.5 L378.0,1112.5 L377.9,1111.5 L377.8,1110.5 L377.7,1109.5 L377.7,1108.5 L377.6,1107.5 L377.6,1106.5 L377.5,1105.5 L377.5,1104.5 L377.4,1103.5 L377.4,1102.5 L377.3,1101.5 L377.3,1100.5 L377.3,1099.5 L377.2,1098.5 L377.2,1097.5Z" fill="#000" stroke="#000" stroke-width="1.6" stroke-linejoin="round"/>
<line x1="345.8" y1="1181.2" x2="408.2" y2="1181.2" stroke="#fff" stroke-width="2.6"/>
<line x1="345.8" y1="1221.5" x2="408.2" y2="1221.5" stroke="#fff" stroke-width="2.6"/>
<line x1="345.8" y1="1232.8" x2="408.2" y2="1232.8" stroke="#fff" stroke-width="2.6"/>
<line x1="345.8" y1="1244.5" x2="408.2" y2="1244.5" stroke="#fff" stroke-width="2.6"/>
<line x1="345.8" y1="1246.6" x2="408.2" y2="1246.6" stroke="#fff" stroke-width="2.6"/>
<line x1="345.8" y1="1264.6" x2="408.2" y2="1264.6" stroke="#fff" stroke-width="2.6"/>
<line x1="345.8" y1="1271" x2="408.2" y2="1271" stroke="#fff" stroke-width="2.6"/>
<line x1="345.8" y1="1301.7" x2="408.2" y2="1301.7" stroke="#fff" stroke-width="2.6"/>
<line x1="345.8" y1="1336.3" x2="408.2" y2="1336.3" stroke="#fff" stroke-width="2.6"/>
<line x1="345.8" y1="1340.9" x2="408.2" y2="1340.9" stroke="#fff" stroke-width="2.6"/>
<line x1="350.0" y1="1391.8" x2="404.0" y2="1391.8" stroke="#fff" stroke-width="2.6"/>
<line x1="563.5" y1="1154.3" x2="931.7" y2="1154.3" stroke="#000" stroke-width="4.6" stroke-linecap="round"/>
<path d="M747.5,994.9 L747.5,995.9 L747.5,996.9 L747.5,997.9 L747.4,998.9 L747.4,999.9 L747.3,1000.9 L747.3,1001.9 L747.2,1002.9 L747.2,1003.9 L747.1,1004.9 L747.0,1005.9 L747.0,1006.9 L746.9,1007.9 L746.8,1008.9 L746.7,1009.9 L746.6,1010.9 L746.5,1011.9 L746.4,1012.9 L746.2,1013.9 L746.1,1014.9 L746.0,1015.9 L745.8,1016.9 L745.6,1017.9 L745.5,1018.9 L745.3,1019.9 L745.1,1020.9 L744.9,1021.9 L744.6,1022.9 L744.4,1023.9 L744.2,1024.9 L743.9,1025.9 L743.6,1026.9 L743.3,1027.9 L743.0,1028.9 L742.7,1029.9 L742.4,1030.9 L742.0,1031.9 L741.7,1032.9 L741.3,1033.9 L740.9,1034.9 L740.5,1035.9 L740.1,1036.9 L739.7,1037.9 L739.2,1038.9 L738.8,1039.9 L738.3,1040.9 L737.8,1041.9 L737.3,1042.9 L736.8,1043.9 L736.3,1044.9 L735.7,1045.9 L735.2,1046.9 L734.6,1047.9 L734.1,1048.9 L733.5,1049.9 L732.9,1050.9 L732.3,1051.9 L731.7,1052.9 L731.1,1053.9 L730.5,1054.9 L729.9,1055.9 L729.2,1056.9 L728.6,1057.9 L728.0,1058.9 L727.3,1059.9 L726.7,1060.9 L726.1,1061.9 L725.4,1062.9 L724.7,1063.9 L724.1,1064.9 L723.4,1065.9 L722.8,1066.9 L722.1,1067.9 L721.4,1068.9 L720.7,1069.9 L720.1,1070.9 L719.4,1071.9 L718.7,1072.9 L718.0,1073.9 L717.2,1074.9 L716.5,1075.9 L715.8,1076.9 L715.0,1077.9 L714.2,1078.9 L713.5,1079.9 L712.6,1080.9 L711.8,1081.9 L711.0,1082.9 L710.1,1083.9 L709.2,1084.9 L708.2,1085.9 L707.3,1086.9 L706.3,1087.9 L705.2,1088.9 L704.2,1089.9 L703.1,1090.9 L701.9,1091.9 L700.7,1092.9 L699.5,1093.9 L698.2,1094.9 L696.9,1095.9 L695.5,1096.9 L694.1,1097.9 L692.6,1098.9 L691.1,1099.9 L689.5,1100.9 L687.9,1101.9 L686.2,1102.9 L684.5,1103.9 L682.8,1104.9 L681.0,1105.9 L679.1,1106.9 L677.2,1107.9 L675.3,1108.9 L673.3,1109.9 L671.3,1110.9 L669.2,1111.9 L667.1,1112.9 L665.0,1113.9 L662.9,1114.9 L660.7,1115.9 L658.5,1116.9 L656.4,1117.9 L654.2,1118.9 L651.9,1119.9 L649.7,1120.9 L647.5,1121.9 L645.3,1122.9 L643.1,1123.9 L640.9,1124.9 L638.8,1125.9 L636.6,1126.9 L634.5,1127.9 L632.5,1128.9 L630.4,1129.9 L628.4,1130.9 L626.5,1131.9 L624.6,1132.9 L622.7,1133.9 L620.9,1134.9 L619.2,1135.9 L617.5,1136.9 L615.9,1137.9 L614.4,1138.9 L612.9,1139.9 L611.5,1140.9 L610.2,1141.9 L608.9,1142.9 L607.8,1143.9 L606.7,1144.9 L605.7,1145.9 L604.7,1146.9 L603.9,1147.9 L603.1,1148.9 L602.4,1149.9 L601.8,1150.9 L601.3,1151.9 L600.9,1152.9 L600.5,1153.9 L600.2,1154.9 L600.0,1155.9 L599.9,1156.9 L599.9,1157.9 L599.9,1158.9 L600.1,1159.9 L600.3,1160.9 L600.6,1161.9 L600.9,1162.9 L601.3,1163.9 L601.8,1164.9 L602.4,1165.9 L603.1,1166.9 L603.8,1167.9 L604.6,1168.9 L605.4,1169.9 L606.4,1170.9 L607.4,1171.9 L608.4,1172.9 L609.5,1173.9 L610.7,1174.9 L612.0,1175.9 L613.3,1176.9 L614.7,1177.9 L616.1,1178.9 L617.6,1179.9 L619.2,1180.9 L620.8,1181.9 L622.4,1182.9 L624.2,1183.9 L625.9,1184.9 L627.8,1185.9 L629.6,1186.9 L631.5,1187.9 L633.5,1188.9 L635.5,1189.9 L637.6,1190.9 L639.7,1191.9 L641.8,1192.9 L644.0,1193.9 L646.2,1194.9 L648.4,1195.9 L650.6,1196.9 L652.9,1197.9 L655.2,1198.9 L657.5,1199.9 L659.9,1200.9 L662.2,1201.9 L664.6,1202.9 L666.9,1203.9 L669.3,1204.9 L671.6,1205.9 L674.0,1206.9 L676.3,1207.9 L678.7,1208.9 L681.0,1209.9 L683.3,1210.9 L685.6,1211.9 L687.9,1212.9 L690.1,1213.9 L692.3,1214.9 L694.5,1215.9 L696.6,1216.9 L698.8,1217.9 L700.8,1218.9 L702.9,1219.9 L704.8,1220.9 L706.8,1221.9 L708.7,1222.9 L710.5,1223.9 L712.3,1224.9 L714.1,1225.9 L715.8,1226.9 L717.4,1227.9 L719.0,1228.9 L720.5,1229.9 L722.0,1230.9 L723.5,1231.9 L724.8,1232.9 L726.2,1233.9 L727.4,1234.9 L728.7,1235.9 L729.8,1236.9 L730.9,1237.9 L732.0,1238.9 L733.0,1239.9 L734.0,1240.9 L734.9,1241.9 L735.8,1242.9 L736.6,1243.9 L737.4,1244.9 L738.1,1245.9 L738.8,1246.9 L739.5,1247.9 L740.1,1248.9 L740.7,1249.9 L741.2,1250.9 L741.7,1251.9 L742.2,1252.9 L742.6,1253.9 L743.0,1254.9 L743.4,1255.9 L743.8,1256.9 L744.1,1257.9 L744.4,1258.9 L744.7,1259.9 L745.0,1260.9 L745.2,1261.9 L745.5,1262.9 L745.7,1263.9 L745.9,1264.9 L746.1,1265.9 L746.2,1266.9 L746.4,1267.9 L746.5,1268.9 L746.6,1269.9 L746.8,1270.9 L746.9,1271.9 L747.0,1272.9 L747.0,1273.9 L747.1,1274.9 L747.2,1275.9 L747.3,1276.9 L747.3,1277.4 L748.3,1277.4 L748.3,1276.9 L748.4,1275.9 L748.5,1274.9 L748.6,1273.9 L748.6,1272.9 L748.7,1271.9 L748.8,1270.9 L749.0,1269.9 L749.1,1268.9 L749.2,1267.9 L749.4,1266.9 L749.5,1265.9 L749.7,1264.9 L749.9,1263.9 L750.1,1262.9 L750.4,1261.9 L750.6,1260.9 L750.9,1259.9 L751.2,1258.9 L751.5,1257.9 L751.8,1256.9 L752.2,1255.9 L752.6,1254.9 L753.0,1253.9 L753.4,1252.9 L753.9,1251.9 L754.4,1250.9 L754.9,1249.9 L755.5,1248.9 L756.1,1247.9 L756.8,1246.9 L757.5,1245.9 L758.2,1244.9 L759.0,1243.9 L759.8,1242.9 L760.7,1241.9 L761.6,1240.9 L762.6,1239.9 L763.6,1238.9 L764.7,1237.9 L765.8,1236.9 L766.9,1235.9 L768.2,1234.9 L769.4,1233.9 L770.8,1232.9 L772.1,1231.9 L773.6,1230.9 L775.1,1229.9 L776.6,1228.9 L778.2,1227.9 L779.8,1226.9 L781.5,1225.9 L783.3,1224.9 L785.1,1223.9 L786.9,1222.9 L788.8,1221.9 L790.8,1220.9 L792.7,1219.9 L794.8,1218.9 L796.8,1217.9 L799.0,1216.9 L801.1,1215.9 L803.3,1214.9 L805.5,1213.9 L807.7,1212.9 L810.0,1211.9 L812.3,1210.9 L814.6,1209.9 L816.9,1208.9 L819.3,1207.9 L821.6,1206.9 L824.0,1205.9 L826.3,1204.9 L828.7,1203.9 L831.0,1202.9 L833.4,1201.9 L835.7,1200.9 L838.1,1199.9 L840.4,1198.9 L842.7,1197.9 L845.0,1196.9 L847.2,1195.9 L849.4,1194.9 L851.6,1193.9 L853.8,1192.9 L855.9,1191.9 L858.0,1190.9 L860.1,1189.9 L862.1,1188.9 L864.1,1187.9 L866.0,1186.9 L867.8,1185.9 L869.7,1184.9 L871.4,1183.9 L873.2,1182.9 L874.8,1181.9 L876.4,1180.9 L878.0,1179.9 L879.5,1178.9 L880.9,1177.9 L882.3,1176.9 L883.6,1175.9 L884.9,1174.9 L886.1,1173.9 L887.2,1172.9 L888.2,1171.9 L889.2,1170.9 L890.2,1169.9 L891.0,1168.9 L891.8,1167.9 L892.5,1166.9 L893.2,1165.9 L893.8,1164.9 L894.3,1163.9 L894.7,1162.9 L895.0,1161.9 L895.3,1160.9 L895.5,1159.9 L895.7,1158.9 L895.7,1157.9 L895.7,1156.9 L895.6,1155.9 L895.4,1154.9 L895.1,1153.9 L894.7,1152.9 L894.3,1151.9 L893.8,1150.9 L893.2,1149.9 L892.5,1148.9 L891.7,1147.9 L890.9,1146.9 L889.9,1145.9 L888.9,1144.9 L887.8,1143.9 L886.7,1142.9 L885.4,1141.9 L884.1,1140.9 L882.7,1139.9 L881.2,1138.9 L879.7,1137.9 L878.1,1136.9 L876.4,1135.9 L874.7,1134.9 L872.9,1133.9 L871.0,1132.9 L869.1,1131.9 L867.2,1130.9 L865.2,1129.9 L863.1,1128.9 L861.1,1127.9 L859.0,1126.9 L856.8,1125.9 L854.7,1124.9 L852.5,1123.9 L850.3,1122.9 L848.1,1121.9 L845.9,1120.9 L843.7,1119.9 L841.4,1118.9 L839.2,1117.9 L837.1,1116.9 L834.9,1115.9 L832.7,1114.9 L830.6,1113.9 L828.5,1112.9 L826.4,1111.9 L824.3,1110.9 L822.3,1109.9 L820.3,1108.9 L818.4,1107.9 L816.5,1106.9 L814.6,1105.9 L812.8,1104.9 L811.1,1103.9 L809.4,1102.9 L807.7,1101.9 L806.1,1100.9 L804.5,1099.9 L803.0,1098.9 L801.5,1097.9 L800.1,1096.9 L798.7,1095.9 L797.4,1094.9 L796.1,1093.9 L794.9,1092.9 L793.7,1091.9 L792.5,1090.9 L791.4,1089.9 L790.4,1088.9 L789.3,1087.9 L788.3,1086.9 L787.4,1085.9 L786.4,1084.9 L785.5,1083.9 L784.6,1082.9 L783.8,1081.9 L783.0,1080.9 L782.1,1079.9 L781.4,1078.9 L780.6,1077.9 L779.8,1076.9 L779.1,1075.9 L778.4,1074.9 L777.6,1073.9 L776.9,1072.9 L776.2,1071.9 L775.5,1070.9 L774.9,1069.9 L774.2,1068.9 L773.5,1067.9 L772.8,1066.9 L772.2,1065.9 L771.5,1064.9 L770.9,1063.9 L770.2,1062.9 L769.5,1061.9 L768.9,1060.9 L768.3,1059.9 L767.6,1058.9 L767.0,1057.9 L766.4,1056.9 L765.7,1055.9 L765.1,1054.9 L764.5,1053.9 L763.9,1052.9 L763.3,1051.9 L762.7,1050.9 L762.1,1049.9 L761.5,1048.9 L761.0,1047.9 L760.4,1046.9 L759.9,1045.9 L759.3,1044.9 L758.8,1043.9 L758.3,1042.9 L757.8,1041.9 L757.3,1040.9 L756.8,1039.9 L756.4,1038.9 L755.9,1037.9 L755.5,1036.9 L755.1,1035.9 L754.7,1034.9 L754.3,1033.9 L753.9,1032.9 L753.6,1031.9 L753.2,1030.9 L752.9,1029.9 L752.6,1028.9 L752.3,1027.9 L752.0,1026.9 L751.7,1025.9 L751.4,1024.9 L751.2,1023.9 L751.0,1022.9 L750.7,1021.9 L750.5,1020.9 L750.3,1019.9 L750.1,1018.9 L750.0,1017.9 L749.8,1016.9 L749.6,1015.9 L749.5,1014.9 L749.4,1013.9 L749.2,1012.9 L749.1,1011.9 L749.0,1010.9 L748.9,1009.9 L748.8,1008.9 L748.7,1007.9 L748.6,1006.9 L748.6,1005.9 L748.5,1004.9 L748.4,1003.9 L748.4,1002.9 L748.3,1001.9 L748.3,1000.9 L748.2,999.9 L748.2,998.9 L748.1,997.9 L748.1,996.9 L748.1,995.9 L748.1,994.9Z" fill="#000" stroke="#000" stroke-width="1.6" stroke-linejoin="round"/>
<line x1="716.6" y1="1078" x2="779.0" y2="1078" stroke="#fff" stroke-width="2.6"/>
<line x1="716.6" y1="1126.8" x2="779.0" y2="1126.8" stroke="#fff" stroke-width="2.6"/>
<line x1="716.6" y1="1139.2" x2="779.0" y2="1139.2" stroke="#fff" stroke-width="2.6"/>
<line x1="716.6" y1="1141.3" x2="779.0" y2="1141.3" stroke="#fff" stroke-width="2.6"/>
<line x1="716.6" y1="1144.8" x2="779.0" y2="1144.8" stroke="#fff" stroke-width="2.6"/>
<line x1="716.6" y1="1155.1" x2="779.0" y2="1155.1" stroke="#fff" stroke-width="2.6"/>
<line x1="716.6" y1="1173.8" x2="779.0" y2="1173.8" stroke="#fff" stroke-width="2.6"/>
<line x1="716.6" y1="1179.8" x2="779.0" y2="1179.8" stroke="#fff" stroke-width="2.6"/>
<line x1="716.6" y1="1192.2" x2="779.0" y2="1192.2" stroke="#fff" stroke-width="2.6"/>
<line x1="716.6" y1="1194.3" x2="779.0" y2="1194.3" stroke="#fff" stroke-width="2.6"/>
<rect x="162.9" y="975.6" width="799.4" height="518.6" fill="none" stroke="#262626" stroke-width="2.5" stroke-linejoin="round"/>
<line x1="142.5" y1="981.1" x2="162.9" y2="981.1" stroke="#262626" stroke-width="2.5" stroke-linecap="round"/>
<line x1="142.5" y1="1038.3" x2="162.9" y2="1038.3" stroke="#262626" stroke-width="2.5" stroke-linecap="round"/>
<text transform="translate(114.8,1038.3) rotate(-90)" text-anchor="middle" font-size="32.5" fill="#111">800</text>
<line x1="142.5" y1="1104.4" x2="162.9" y2="1104.4" stroke="#262626" stroke-width="2.5" stroke-linecap="round"/>
<line x1="142.5" y1="1180.4" x2="162.9" y2="1180.4" stroke="#262626" stroke-width="2.5" stroke-linecap="round"/>
<text transform="translate(114.8,1180.4) rotate(-90)" text-anchor="middle" font-size="32.5" fill="#111">600</text>
<line x1="142.5" y1="1268.7" x2="162.9" y2="1268.7" stroke="#262626" stroke-width="2.5" stroke-linecap="round"/>
<text transform="translate(114.8,1268.7) rotate(-90)" text-anchor="middle" font-size="32.5" fill="#111">500</text>
<line x1="142.5" y1="1378.3" x2="162.9" y2="1378.3" stroke="#262626" stroke-width="2.5" stroke-linecap="round"/>
<text transform="translate(114.8,1378.3) rotate(-90)" text-anchor="middle" font-size="32.5" fill="#111">400</text>
<line x1="377.3" y1="1494.2" x2="377.3" y2="1513.5" stroke="#262626" stroke-width="2.5" stroke-linecap="round"/>
<line x1="747.8" y1="1494.2" x2="747.8" y2="1513.5" stroke="#262626" stroke-width="2.5" stroke-linecap="round"/>
<text x="564" y="900.7" text-anchor="middle" font-size="43.7" font-weight="bold" fill="#000">Alanine</text>
<text transform="translate(53,1250.9) rotate(-90)" text-anchor="middle" font-size="43.2" font-weight="bold" fill="#000">Alanine, µM</text>
<text x="234.1" y="1559.6" font-size="43.5" font-weight="bold" fill="#000">Pre-Exercise</text>
<text x="608.6" y="1559.6" font-size="43.5" font-weight="bold" fill="#000">Post-Exercise</text>
<line x1="443" y1="1065.8" x2="594" y2="1065.8" stroke="#a6a6a6" stroke-width="3"/>
<text x="518.4" y="1067.1" text-anchor="middle" font-size="30" font-weight="bold" letter-spacing="1.5" fill="#1a1a1a">**</text>
</g>
<g>
<line x1="1199.2" y1="1249.6" x2="1998.6" y2="1249.6" stroke="#2a2a2a" stroke-width="2.7" stroke-dasharray="3 9.78" />
<line x1="1230.3999999999999" y1="1347.5" x2="1598.2" y2="1347.5" stroke="#000" stroke-width="4.6" stroke-linecap="round"/>
<line x1="1382.5" y1="1410.4" x2="1444.9" y2="1410.4" stroke="#000" stroke-width="2.4"/>
<path d="M1413.4,1235.8 L1413.4,1236.8 L1413.3,1237.8 L1413.3,1238.8 L1413.2,1239.8 L1413.2,1240.8 L1413.1,1241.8 L1413.0,1242.8 L1412.9,1243.8 L1412.8,1244.8 L1412.7,1245.8 L1412.6,1246.8 L1412.4,1247.8 L1412.3,1248.8 L1412.1,1249.8 L1411.9,1250.8 L1411.7,1251.8 L1411.4,1252.8 L1411.2,1253.8 L1410.9,1254.8 L1410.6,1255.8 L1410.2,1256.8 L1409.9,1257.8 L1409.5,1258.8 L1409.1,1259.8 L1408.6,1260.8 L1408.1,1261.8 L1407.5,1262.8 L1407.0,1263.8 L1406.4,1264.8 L1405.7,1265.8 L1405.0,1266.8 L1404.2,1267.8 L1403.4,1268.8 L1402.6,1269.8 L1401.7,1270.8 L1400.7,1271.8 L1399.7,1272.8 L1398.7,1273.8 L1397.6,1274.8 L1396.4,1275.8 L1395.2,1276.8 L1393.9,1277.8 L1392.6,1278.8 L1391.2,1279.8 L1389.8,1280.8 L1388.3,1281.8 L1386.7,1282.8 L1385.1,1283.8 L1383.5,1284.8 L1381.8,1285.8 L1380.1,1286.8 L1378.3,1287.8 L1376.4,1288.8 L1374.5,1289.8 L1372.6,1290.8 L1370.6,1291.8 L1368.6,1292.8 L1366.5,1293.8 L1364.4,1294.8 L1362.3,1295.8 L1360.1,1296.8 L1357.9,1297.8 L1355.7,1298.8 L1353.4,1299.8 L1351.1,1300.8 L1348.8,1301.8 L1346.5,1302.8 L1344.1,1303.8 L1341.7,1304.8 L1339.4,1305.8 L1336.9,1306.8 L1334.5,1307.8 L1332.1,1308.8 L1329.7,1309.8 L1327.2,1310.8 L1324.8,1311.8 L1322.3,1312.8 L1319.9,1313.8 L1317.4,1314.8 L1315.0,1315.8 L1312.5,1316.8 L1310.1,1317.8 L1307.7,1318.8 L1305.4,1319.8 L1303.0,1320.8 L1300.7,1321.8 L1298.4,1322.8 L1296.1,1323.8 L1293.9,1324.8 L1291.7,1325.8 L1289.6,1326.8 L1287.5,1327.8 L1285.5,1328.8 L1283.6,1329.8 L1281.7,1330.8 L1279.9,1331.8 L1278.2,1332.8 L1276.6,1333.8 L1275.0,1334.8 L1273.6,1335.8 L1272.3,1336.8 L1271.1,1337.8 L1270.0,1338.8 L1269.0,1339.8 L1268.1,1340.8 L1267.4,1341.8 L1266.8,1342.8 L1266.4,1343.8 L1266.1,1344.8 L1265.9,1345.8 L1265.9,1346.8 L1266.0,1347.8 L1266.3,1348.8 L1266.8,1349.8 L1267.4,1350.8 L1268.1,1351.8 L1269.0,1352.8 L1270.1,1353.8 L1271.2,1354.8 L1272.6,1355.8 L1274.1,1356.8 L1275.7,1357.8 L1277.4,1358.8 L1279.3,1359.8 L1281.3,1360.8 L1283.4,1361.8 L1285.6,1362.8 L1288.0,1363.8 L1290.4,1364.8 L1292.9,1365.8 L1295.4,1366.8 L1298.1,1367.8 L1300.8,1368.8 L1303.5,1369.8 L1306.3,1370.8 L1309.2,1371.8 L1312.0,1372.8 L1314.9,1373.8 L1317.7,1374.8 L1320.6,1375.8 L1323.4,1376.8 L1326.2,1377.8 L1329.0,1378.8 L1331.8,1379.8 L1334.5,1380.8 L1337.2,1381.8 L1339.8,1382.8 L1342.3,1383.8 L1344.8,1384.8 L1347.2,1385.8 L1349.5,1386.8 L1351.8,1387.8 L1353.9,1388.8 L1356.0,1389.8 L1358.0,1390.8 L1360.0,1391.8 L1361.8,1392.8 L1363.6,1393.8 L1365.3,1394.8 L1366.9,1395.8 L1368.4,1396.8 L1369.9,1397.8 L1371.3,1398.8 L1372.6,1399.8 L1373.9,1400.8 L1375.1,1401.8 L1376.3,1402.8 L1377.4,1403.8 L1378.4,1404.8 L1379.4,1405.8 L1380.4,1406.8 L1381.3,1407.8 L1382.3,1408.8 L1383.1,1409.8 L1384.0,1410.8 L1384.8,1411.8 L1385.7,1412.8 L1386.5,1413.8 L1387.3,1414.8 L1388.1,1415.8 L1388.8,1416.8 L1389.6,1417.8 L1390.4,1418.8 L1391.2,1419.8 L1391.9,1420.8 L1392.7,1421.8 L1393.4,1422.8 L1394.2,1423.8 L1394.9,1424.8 L1395.7,1425.8 L1396.4,1426.8 L1397.1,1427.8 L1397.9,1428.8 L1398.6,1429.8 L1399.3,1430.8 L1400.0,1431.8 L1400.7,1432.8 L1401.3,1433.8 L1402.0,1434.8 L1402.6,1435.8 L1403.3,1436.8 L1403.9,1437.8 L1404.5,1438.8 L1405.0,1439.8 L1405.6,1440.8 L1406.1,1441.8 L1406.6,1442.8 L1407.1,1443.8 L1407.6,1444.8 L1408.0,1445.8 L1408.5,1446.8 L1408.9,1447.8 L1409.2,1448.8 L1409.6,1449.8 L1409.9,1450.8 L1410.2,1451.8 L1410.5,1452.8 L1410.8,1453.8 L1411.1,1454.8 L1411.3,1455.8 L1411.5,1456.8 L1411.7,1457.8 L1411.9,1458.8 L1412.1,1459.8 L1412.3,1460.8 L1412.4,1461.8 L1412.6,1462.8 L1412.7,1463.8 L1412.8,1464.8 L1412.9,1465.8 L1413.0,1466.8 L1413.1,1467.8 L1413.1,1468.8 L1413.2,1469.8 L1413.3,1470.8 L1413.3,1471.8 L1413.4,1472.8 L1413.4,1473.8 L1413.4,1474.8 L1413.5,1475.5 L1413.9,1475.5 L1414.0,1474.8 L1414.0,1473.8 L1414.0,1472.8 L1414.1,1471.8 L1414.1,1470.8 L1414.2,1469.8 L1414.3,1468.8 L1414.3,1467.8 L1414.4,1466.8 L1414.5,1465.8 L1414.6,1464.8 L1414.7,1463.8 L1414.8,1462.8 L1415.0,1461.8 L1415.1,1460.8 L1415.3,1459.8 L1415.5,1458.8 L1415.7,1457.8 L1415.9,1456.8 L1416.1,1455.8 L1416.3,1454.8 L1416.6,1453.8 L1416.9,1452.8 L1417.2,1451.8 L1417.5,1450.8 L1417.8,1449.8 L1418.2,1448.8 L1418.5,1447.8 L1418.9,1446.8 L1419.4,1445.8 L1419.8,1444.8 L1420.3,1443.8 L1420.8,1442.8 L1421.3,1441.8 L1421.8,1440.8 L1422.4,1439.8 L1422.9,1438.8 L1423.5,1437.8 L1424.1,1436.8 L1424.8,1435.8 L1425.4,1434.8 L1426.1,1433.8 L1426.7,1432.8 L1427.4,1431.8 L1428.1,1430.8 L1428.8,1429.8 L1429.5,1428.8 L1430.3,1427.8 L1431.0,1426.8 L1431.7,1425.8 L1432.5,1424.8 L1433.2,1423.8 L1434.0,1422.8 L1434.7,1421.8 L1435.5,1420.8 L1436.2,1419.8 L1437.0,1418.8 L1437.8,1417.8 L1438.6,1416.8 L1439.3,1415.8 L1440.1,1414.8 L1440.9,1413.8 L1441.7,1412.8 L1442.6,1411.8 L1443.4,1410.8 L1444.3,1409.8 L1445.1,1408.8 L1446.1,1407.8 L1447.0,1406.8 L1448.0,1405.8 L1449.0,1404.8 L1450.0,1403.8 L1451.1,1402.8 L1452.3,1401.8 L1453.5,1400.8 L1454.8,1399.8 L1456.1,1398.8 L1457.5,1397.8 L1459.0,1396.8 L1460.5,1395.8 L1462.1,1394.8 L1463.8,1393.8 L1465.6,1392.8 L1467.4,1391.8 L1469.4,1390.8 L1471.4,1389.8 L1473.5,1388.8 L1475.6,1387.8 L1477.9,1386.8 L1480.2,1385.8 L1482.6,1384.8 L1485.1,1383.8 L1487.6,1382.8 L1490.2,1381.8 L1492.9,1380.8 L1495.6,1379.8 L1498.4,1378.8 L1501.2,1377.8 L1504.0,1376.8 L1506.8,1375.8 L1509.7,1374.8 L1512.5,1373.8 L1515.4,1372.8 L1518.2,1371.8 L1521.1,1370.8 L1523.9,1369.8 L1526.6,1368.8 L1529.3,1367.8 L1532.0,1366.8 L1534.5,1365.8 L1537.0,1364.8 L1539.4,1363.8 L1541.8,1362.8 L1544.0,1361.8 L1546.1,1360.8 L1548.1,1359.8 L1550.0,1358.8 L1551.7,1357.8 L1553.3,1356.8 L1554.8,1355.8 L1556.2,1354.8 L1557.3,1353.8 L1558.4,1352.8 L1559.3,1351.8 L1560.0,1350.8 L1560.6,1349.8 L1561.1,1348.8 L1561.4,1347.8 L1561.5,1346.8 L1561.5,1345.8 L1561.3,1344.8 L1561.0,1343.8 L1560.6,1342.8 L1560.0,1341.8 L1559.3,1340.8 L1558.4,1339.8 L1557.4,1338.8 L1556.3,1337.8 L1555.1,1336.8 L1553.8,1335.8 L1552.4,1334.8 L1550.8,1333.8 L1549.2,1332.8 L1547.5,1331.8 L1545.7,1330.8 L1543.8,1329.8 L1541.9,1328.8 L1539.9,1327.8 L1537.8,1326.8 L1535.7,1325.8 L1533.5,1324.8 L1531.3,1323.8 L1529.0,1322.8 L1526.7,1321.8 L1524.4,1320.8 L1522.0,1319.8 L1519.7,1318.8 L1517.3,1317.8 L1514.9,1316.8 L1512.4,1315.8 L1510.0,1314.8 L1507.5,1313.8 L1505.1,1312.8 L1502.6,1311.8 L1500.2,1310.8 L1497.7,1309.8 L1495.3,1308.8 L1492.9,1307.8 L1490.5,1306.8 L1488.0,1305.8 L1485.7,1304.8 L1483.3,1303.8 L1480.9,1302.8 L1478.6,1301.8 L1476.3,1300.8 L1474.0,1299.8 L1471.7,1298.8 L1469.5,1297.8 L1467.3,1296.8 L1465.1,1295.8 L1463.0,1294.8 L1460.9,1293.8 L1458.8,1292.8 L1456.8,1291.8 L1454.8,1290.8 L1452.9,1289.8 L1451.0,1288.8 L1449.1,1287.8 L1447.3,1286.8 L1445.6,1285.8 L1443.9,1284.8 L1442.3,1283.8 L1440.7,1282.8 L1439.1,1281.8 L1437.6,1280.8 L1436.2,1279.8 L1434.8,1278.8 L1433.5,1277.8 L1432.2,1276.8 L1431.0,1275.8 L1429.8,1274.8 L1428.7,1273.8 L1427.7,1272.8 L1426.7,1271.8 L1425.7,1270.8 L1424.8,1269.8 L1424.0,1268.8 L1423.2,1267.8 L1422.4,1266.8 L1421.7,1265.8 L1421.0,1264.8 L1420.4,1263.8 L1419.9,1262.8 L1419.3,1261.8 L1418.8,1260.8 L1418.3,1259.8 L1417.9,1258.8 L1417.5,1257.8 L1417.2,1256.8 L1416.8,1255.8 L1416.5,1254.8 L1416.2,1253.8 L1416.0,1252.8 L1415.7,1251.8 L1415.5,1250.8 L1415.3,1249.8 L1415.1,1248.8 L1415.0,1247.8 L1414.8,1246.8 L1414.7,1245.8 L1414.6,1244.8 L1414.5,1243.8 L1414.4,1242.8 L1414.3,1241.8 L1414.2,1240.8 L1414.2,1239.8 L1414.1,1238.8 L1414.1,1237.8 L1414.0,1236.8 L1414.0,1235.8Z" fill="#000" stroke="#000" stroke-width="1.6" stroke-linejoin="round"/>
<line x1="1382.5" y1="1300.9" x2="1444.9" y2="1300.9" stroke="#fff" stroke-width="2.6"/>
<line x1="1382.5" y1="1314.3" x2="1444.9" y2="1314.3" stroke="#fff" stroke-width="2.6"/>
<line x1="1352.9" y1="1330.2" x2="1474.5" y2="1330.2" stroke="#fff" stroke-width="2.6"/>
<line x1="1323.3" y1="1347.5" x2="1504.1" y2="1347.5" stroke="#fff" stroke-width="2.6"/>
<line x1="1382.5" y1="1357.7" x2="1444.9" y2="1357.7" stroke="#fff" stroke-width="2.6"/>
<line x1="1352.9" y1="1369" x2="1474.5" y2="1369" stroke="#fff" stroke-width="2.6"/>
<line x1="1383.2" y1="1410.4" x2="1444.2" y2="1410.4" stroke="#fff" stroke-width="2.6"/>
<line x1="1600.5" y1="1150.5" x2="1967.6000000000001" y2="1150.5" stroke="#000" stroke-width="4.6" stroke-linecap="round"/>
<line x1="1752.8" y1="1060" x2="1815.2" y2="1060" stroke="#000" stroke-width="2.4"/>
<path d="M1783.8,995.2 L1783.7,996.2 L1783.7,997.2 L1783.6,998.2 L1783.6,999.2 L1783.5,1000.2 L1783.5,1001.2 L1783.4,1002.2 L1783.3,1003.2 L1783.2,1004.2 L1783.2,1005.2 L1783.0,1006.2 L1782.9,1007.2 L1782.8,1008.2 L1782.7,1009.2 L1782.5,1010.2 L1782.3,1011.2 L1782.2,1012.2 L1782.0,1013.2 L1781.8,1014.2 L1781.5,1015.2 L1781.3,1016.2 L1781.0,1017.2 L1780.7,1018.2 L1780.4,1019.2 L1780.1,1020.2 L1779.7,1021.2 L1779.4,1022.2 L1779.0,1023.2 L1778.6,1024.2 L1778.2,1025.2 L1777.7,1026.2 L1777.2,1027.2 L1776.7,1028.2 L1776.2,1029.2 L1775.7,1030.2 L1775.1,1031.2 L1774.6,1032.2 L1774.0,1033.2 L1773.4,1034.2 L1772.8,1035.2 L1772.1,1036.2 L1771.5,1037.2 L1770.9,1038.2 L1770.2,1039.2 L1769.5,1040.2 L1768.9,1041.2 L1768.2,1042.2 L1767.6,1043.2 L1766.9,1044.2 L1766.3,1045.2 L1765.6,1046.2 L1765.0,1047.2 L1764.4,1048.2 L1763.8,1049.2 L1763.2,1050.2 L1762.6,1051.2 L1762.0,1052.2 L1761.5,1053.2 L1761.0,1054.2 L1760.5,1055.2 L1760.0,1056.2 L1759.6,1057.2 L1759.1,1058.2 L1758.7,1059.2 L1758.3,1060.2 L1758.0,1061.2 L1757.6,1062.2 L1757.3,1063.2 L1757.0,1064.2 L1756.7,1065.2 L1756.4,1066.2 L1756.2,1067.2 L1755.9,1068.2 L1755.7,1069.2 L1755.4,1070.2 L1755.2,1071.2 L1755.0,1072.2 L1754.7,1073.2 L1754.5,1074.2 L1754.3,1075.2 L1754.0,1076.2 L1753.8,1077.2 L1753.5,1078.2 L1753.3,1079.2 L1753.0,1080.2 L1752.7,1081.2 L1752.4,1082.2 L1752.0,1083.2 L1751.7,1084.2 L1751.3,1085.2 L1750.9,1086.2 L1750.5,1087.2 L1750.0,1088.2 L1749.5,1089.2 L1749.0,1090.2 L1748.5,1091.2 L1747.9,1092.2 L1747.3,1093.2 L1746.7,1094.2 L1746.0,1095.2 L1745.3,1096.2 L1744.6,1097.2 L1743.8,1098.2 L1743.0,1099.2 L1742.2,1100.2 L1741.3,1101.2 L1740.4,1102.2 L1739.5,1103.2 L1738.5,1104.2 L1737.5,1105.2 L1736.4,1106.2 L1735.3,1107.2 L1734.1,1108.2 L1732.9,1109.2 L1731.7,1110.2 L1730.4,1111.2 L1729.1,1112.2 L1727.7,1113.2 L1726.3,1114.2 L1724.8,1115.2 L1723.3,1116.2 L1721.8,1117.2 L1720.2,1118.2 L1718.6,1119.2 L1717.0,1120.2 L1715.4,1121.2 L1713.7,1122.2 L1712.0,1123.2 L1710.2,1124.2 L1708.5,1125.2 L1706.7,1126.2 L1704.9,1127.2 L1703.2,1128.2 L1701.4,1129.2 L1699.6,1130.2 L1697.9,1131.2 L1696.1,1132.2 L1694.4,1133.2 L1692.7,1134.2 L1691.0,1135.2 L1689.4,1136.2 L1687.7,1137.2 L1686.2,1138.2 L1684.7,1139.2 L1683.2,1140.2 L1681.8,1141.2 L1680.4,1142.2 L1679.1,1143.2 L1677.9,1144.2 L1676.7,1145.2 L1675.6,1146.2 L1674.6,1147.2 L1673.6,1148.2 L1672.8,1149.2 L1672.0,1150.2 L1671.2,1151.2 L1670.6,1152.2 L1670.0,1153.2 L1669.5,1154.2 L1669.1,1155.2 L1668.8,1156.2 L1668.6,1157.2 L1668.4,1158.2 L1668.3,1159.2 L1668.3,1160.2 L1668.4,1161.2 L1668.5,1162.2 L1668.7,1163.2 L1669.0,1164.2 L1669.4,1165.2 L1669.8,1166.2 L1670.3,1167.2 L1670.8,1168.2 L1671.5,1169.2 L1672.2,1170.2 L1672.9,1171.2 L1673.7,1172.2 L1674.6,1173.2 L1675.5,1174.2 L1676.5,1175.2 L1677.6,1176.2 L1678.7,1177.2 L1679.8,1178.2 L1681.0,1179.2 L1682.3,1180.2 L1683.6,1181.2 L1684.9,1182.2 L1686.3,1183.2 L1687.7,1184.2 L1689.1,1185.2 L1690.6,1186.2 L1692.1,1187.2 L1693.7,1188.2 L1695.3,1189.2 L1696.9,1190.2 L1698.5,1191.2 L1700.1,1192.2 L1701.8,1193.2 L1703.4,1194.2 L1705.1,1195.2 L1706.8,1196.2 L1708.5,1197.2 L1710.2,1198.2 L1711.9,1199.2 L1713.6,1200.2 L1715.3,1201.2 L1717.0,1202.2 L1718.7,1203.2 L1720.3,1204.2 L1722.0,1205.2 L1723.7,1206.2 L1725.3,1207.2 L1726.9,1208.2 L1728.5,1209.2 L1730.1,1210.2 L1731.7,1211.2 L1733.3,1212.2 L1734.8,1213.2 L1736.4,1214.2 L1737.9,1215.2 L1739.4,1216.2 L1740.8,1217.2 L1742.3,1218.2 L1743.7,1219.2 L1745.1,1220.2 L1746.5,1221.2 L1747.9,1222.2 L1749.3,1223.2 L1750.6,1224.2 L1751.9,1225.2 L1753.2,1226.2 L1754.5,1227.2 L1755.7,1228.2 L1756.9,1229.2 L1758.1,1230.2 L1759.3,1231.2 L1760.5,1232.2 L1761.6,1233.2 L1762.7,1234.2 L1763.7,1235.2 L1764.8,1236.2 L1765.8,1237.2 L1766.8,1238.2 L1767.7,1239.2 L1768.7,1240.2 L1769.6,1241.2 L1770.4,1242.2 L1771.2,1243.2 L1772.0,1244.2 L1772.8,1245.2 L1773.5,1246.2 L1774.2,1247.2 L1774.9,1248.2 L1775.6,1249.2 L1776.2,1250.2 L1776.7,1251.2 L1777.3,1252.2 L1777.8,1253.2 L1778.3,1254.2 L1778.8,1255.2 L1779.2,1256.2 L1779.6,1257.2 L1780.0,1258.2 L1780.3,1259.2 L1780.6,1260.2 L1780.9,1261.2 L1781.2,1262.2 L1781.5,1263.2 L1781.7,1264.2 L1782.0,1265.2 L1782.2,1266.2 L1782.3,1267.2 L1782.5,1268.2 L1782.7,1269.2 L1782.8,1270.2 L1782.9,1271.2 L1783.1,1272.2 L1783.2,1273.2 L1783.3,1274.2 L1783.3,1275.2 L1783.4,1276.2 L1783.5,1277.2 L1783.6,1278.2 L1783.6,1279.2 L1783.7,1280.2 L1783.7,1281.2 L1783.7,1282.2 L1783.8,1282.8 L1784.2,1282.8 L1784.3,1282.2 L1784.3,1281.2 L1784.3,1280.2 L1784.4,1279.2 L1784.4,1278.2 L1784.5,1277.2 L1784.6,1276.2 L1784.7,1275.2 L1784.7,1274.2 L1784.8,1273.2 L1784.9,1272.2 L1785.1,1271.2 L1785.2,1270.2 L1785.3,1269.2 L1785.5,1268.2 L1785.7,1267.2 L1785.8,1266.2 L1786.0,1265.2 L1786.3,1264.2 L1786.5,1263.2 L1786.8,1262.2 L1787.1,1261.2 L1787.4,1260.2 L1787.7,1259.2 L1788.0,1258.2 L1788.4,1257.2 L1788.8,1256.2 L1789.2,1255.2 L1789.7,1254.2 L1790.2,1253.2 L1790.7,1252.2 L1791.3,1251.2 L1791.8,1250.2 L1792.4,1249.2 L1793.1,1248.2 L1793.8,1247.2 L1794.5,1246.2 L1795.2,1245.2 L1796.0,1244.2 L1796.8,1243.2 L1797.6,1242.2 L1798.4,1241.2 L1799.3,1240.2 L1800.3,1239.2 L1801.2,1238.2 L1802.2,1237.2 L1803.2,1236.2 L1804.3,1235.2 L1805.3,1234.2 L1806.4,1233.2 L1807.5,1232.2 L1808.7,1231.2 L1809.9,1230.2 L1811.1,1229.2 L1812.3,1228.2 L1813.5,1227.2 L1814.8,1226.2 L1816.1,1225.2 L1817.4,1224.2 L1818.7,1223.2 L1820.1,1222.2 L1821.5,1221.2 L1822.9,1220.2 L1824.3,1219.2 L1825.7,1218.2 L1827.2,1217.2 L1828.6,1216.2 L1830.1,1215.2 L1831.6,1214.2 L1833.2,1213.2 L1834.7,1212.2 L1836.3,1211.2 L1837.9,1210.2 L1839.5,1209.2 L1841.1,1208.2 L1842.7,1207.2 L1844.3,1206.2 L1846.0,1205.2 L1847.7,1204.2 L1849.3,1203.2 L1851.0,1202.2 L1852.7,1201.2 L1854.4,1200.2 L1856.1,1199.2 L1857.8,1198.2 L1859.5,1197.2 L1861.2,1196.2 L1862.9,1195.2 L1864.6,1194.2 L1866.2,1193.2 L1867.9,1192.2 L1869.5,1191.2 L1871.1,1190.2 L1872.7,1189.2 L1874.3,1188.2 L1875.9,1187.2 L1877.4,1186.2 L1878.9,1185.2 L1880.3,1184.2 L1881.7,1183.2 L1883.1,1182.2 L1884.4,1181.2 L1885.7,1180.2 L1887.0,1179.2 L1888.2,1178.2 L1889.3,1177.2 L1890.4,1176.2 L1891.5,1175.2 L1892.5,1174.2 L1893.4,1173.2 L1894.3,1172.2 L1895.1,1171.2 L1895.8,1170.2 L1896.5,1169.2 L1897.2,1168.2 L1897.7,1167.2 L1898.2,1166.2 L1898.6,1165.2 L1899.0,1164.2 L1899.3,1163.2 L1899.5,1162.2 L1899.6,1161.2 L1899.7,1160.2 L1899.7,1159.2 L1899.6,1158.2 L1899.4,1157.2 L1899.2,1156.2 L1898.9,1155.2 L1898.5,1154.2 L1898.0,1153.2 L1897.4,1152.2 L1896.8,1151.2 L1896.0,1150.2 L1895.2,1149.2 L1894.4,1148.2 L1893.4,1147.2 L1892.4,1146.2 L1891.3,1145.2 L1890.1,1144.2 L1888.9,1143.2 L1887.6,1142.2 L1886.2,1141.2 L1884.8,1140.2 L1883.3,1139.2 L1881.8,1138.2 L1880.3,1137.2 L1878.6,1136.2 L1877.0,1135.2 L1875.3,1134.2 L1873.6,1133.2 L1871.9,1132.2 L1870.1,1131.2 L1868.4,1130.2 L1866.6,1129.2 L1864.8,1128.2 L1863.1,1127.2 L1861.3,1126.2 L1859.5,1125.2 L1857.8,1124.2 L1856.0,1123.2 L1854.3,1122.2 L1852.6,1121.2 L1851.0,1120.2 L1849.4,1119.2 L1847.8,1118.2 L1846.2,1117.2 L1844.7,1116.2 L1843.2,1115.2 L1841.7,1114.2 L1840.3,1113.2 L1838.9,1112.2 L1837.6,1111.2 L1836.3,1110.2 L1835.1,1109.2 L1833.9,1108.2 L1832.7,1107.2 L1831.6,1106.2 L1830.5,1105.2 L1829.5,1104.2 L1828.5,1103.2 L1827.6,1102.2 L1826.7,1101.2 L1825.8,1100.2 L1825.0,1099.2 L1824.2,1098.2 L1823.4,1097.2 L1822.7,1096.2 L1822.0,1095.2 L1821.3,1094.2 L1820.7,1093.2 L1820.1,1092.2 L1819.5,1091.2 L1819.0,1090.2 L1818.5,1089.2 L1818.0,1088.2 L1817.5,1087.2 L1817.1,1086.2 L1816.7,1085.2 L1816.3,1084.2 L1816.0,1083.2 L1815.6,1082.2 L1815.3,1081.2 L1815.0,1080.2 L1814.7,1079.2 L1814.5,1078.2 L1814.2,1077.2 L1814.0,1076.2 L1813.7,1075.2 L1813.5,1074.2 L1813.3,1073.2 L1813.0,1072.2 L1812.8,1071.2 L1812.6,1070.2 L1812.3,1069.2 L1812.1,1068.2 L1811.8,1067.2 L1811.6,1066.2 L1811.3,1065.2 L1811.0,1064.2 L1810.7,1063.2 L1810.4,1062.2 L1810.0,1061.2 L1809.7,1060.2 L1809.3,1059.2 L1808.9,1058.2 L1808.4,1057.2 L1808.0,1056.2 L1807.5,1055.2 L1807.0,1054.2 L1806.5,1053.2 L1806.0,1052.2 L1805.4,1051.2 L1804.8,1050.2 L1804.2,1049.2 L1803.6,1048.2 L1803.0,1047.2 L1802.4,1046.2 L1801.7,1045.2 L1801.1,1044.2 L1800.4,1043.2 L1799.8,1042.2 L1799.1,1041.2 L1798.5,1040.2 L1797.8,1039.2 L1797.1,1038.2 L1796.5,1037.2 L1795.9,1036.2 L1795.2,1035.2 L1794.6,1034.2 L1794.0,1033.2 L1793.4,1032.2 L1792.9,1031.2 L1792.3,1030.2 L1791.8,1029.2 L1791.3,1028.2 L1790.8,1027.2 L1790.3,1026.2 L1789.8,1025.2 L1789.4,1024.2 L1789.0,1023.2 L1788.6,1022.2 L1788.3,1021.2 L1787.9,1020.2 L1787.6,1019.2 L1787.3,1018.2 L1787.0,1017.2 L1786.7,1016.2 L1786.5,1015.2 L1786.2,1014.2 L1786.0,1013.2 L1785.8,1012.2 L1785.7,1011.2 L1785.5,1010.2 L1785.3,1009.2 L1785.2,1008.2 L1785.1,1007.2 L1785.0,1006.2 L1784.8,1005.2 L1784.8,1004.2 L1784.7,1003.2 L1784.6,1002.2 L1784.5,1001.2 L1784.5,1000.2 L1784.4,999.2 L1784.4,998.2 L1784.3,997.2 L1784.3,996.2 L1784.2,995.2Z" fill="#000" stroke="#000" stroke-width="1.6" stroke-linejoin="round"/>
<line x1="1757.9" y1="1060" x2="1810.1" y2="1060" stroke="#fff" stroke-width="2.6"/>
<line x1="1752.8" y1="1098.9" x2="1815.2" y2="1098.9" stroke="#fff" stroke-width="2.6"/>
<line x1="1752.8" y1="1126.4" x2="1815.2" y2="1126.4" stroke="#fff" stroke-width="2.6"/>
<line x1="1752.8" y1="1141.3" x2="1815.2" y2="1141.3" stroke="#fff" stroke-width="2.6"/>
<line x1="1752.8" y1="1149" x2="1815.2" y2="1149" stroke="#fff" stroke-width="2.6"/>
<line x1="1752.8" y1="1151.2" x2="1815.2" y2="1151.2" stroke="#fff" stroke-width="2.6"/>
<line x1="1752.8" y1="1164.2" x2="1815.2" y2="1164.2" stroke="#fff" stroke-width="2.6"/>
<line x1="1752.8" y1="1177.3" x2="1815.2" y2="1177.3" stroke="#fff" stroke-width="2.6"/>
<line x1="1752.8" y1="1181.2" x2="1815.2" y2="1181.2" stroke="#fff" stroke-width="2.6"/>
<line x1="1752.8" y1="1193.2" x2="1815.2" y2="1193.2" stroke="#fff" stroke-width="2.6"/>
<line x1="1752.8" y1="1218" x2="1815.2" y2="1218" stroke="#fff" stroke-width="2.6"/>
<rect x="1199.6" y="975.8" width="799.0" height="518.0" fill="none" stroke="#262626" stroke-width="2.5" stroke-linejoin="round"/>
<line x1="1179.2" y1="1023.5" x2="1199.6" y2="1023.5" stroke="#262626" stroke-width="2.5" stroke-linecap="round"/>
<line x1="1179.2" y1="1102.7" x2="1199.6" y2="1102.7" stroke="#262626" stroke-width="2.5" stroke-linecap="round"/>
<text transform="translate(1153,1102.7) rotate(-90)" text-anchor="middle" font-size="32.5" fill="#111">10.0</text>
<line x1="1179.2" y1="1183.2" x2="1199.6" y2="1183.2" stroke="#262626" stroke-width="2.5" stroke-linecap="round"/>
<text transform="translate(1153,1183.2) rotate(-90)" text-anchor="middle" font-size="32.5" fill="#111">5.0</text>
<line x1="1179.2" y1="1288.5" x2="1199.6" y2="1288.5" stroke="#262626" stroke-width="2.5" stroke-linecap="round"/>
<text transform="translate(1153,1288.5) rotate(-90)" text-anchor="middle" font-size="32.5" fill="#111">2.0</text>
<line x1="1179.2" y1="1368.7" x2="1199.6" y2="1368.7" stroke="#262626" stroke-width="2.5" stroke-linecap="round"/>
<text transform="translate(1153,1368.7) rotate(-90)" text-anchor="middle" font-size="32.5" fill="#111">1.0</text>
<line x1="1179.2" y1="1448.2" x2="1199.6" y2="1448.2" stroke="#262626" stroke-width="2.5" stroke-linecap="round"/>
<text transform="translate(1153,1448.2) rotate(-90)" text-anchor="middle" font-size="32.5" fill="#111">0.5</text>
<line x1="1413.7" y1="1493.8" x2="1413.7" y2="1513.1" stroke="#262626" stroke-width="2.5" stroke-linecap="round"/>
<line x1="1784.3" y1="1493.8" x2="1784.3" y2="1513.1" stroke="#262626" stroke-width="2.5" stroke-linecap="round"/>
<text x="1597.3" y="900.7" text-anchor="middle" font-size="43.7" font-weight="bold" fill="#000">Lactate</text>
<text transform="translate(1094.3,1253.3) rotate(-90)" text-anchor="middle" font-size="43.2" font-weight="bold" fill="#000">Lactate, mM</text>
<text x="1260.6000000000001" y="1564.6" font-size="43.5" font-weight="bold" fill="#000">Pre-Exercise</text>
<text x="1625.2" y="1564.6" font-size="43.5" font-weight="bold" fill="#000">Post-Exercise</text>
<line x1="1474.8" y1="1070.7" x2="1624.9" y2="1070.7" stroke="#a6a6a6" stroke-width="3"/>
<text x="1557.2" y="1073.0" text-anchor="middle" font-size="30" font-weight="bold" letter-spacing="1.5" fill="#1a1a1a">*****</text>
</g>
</svg>
</body></html>
